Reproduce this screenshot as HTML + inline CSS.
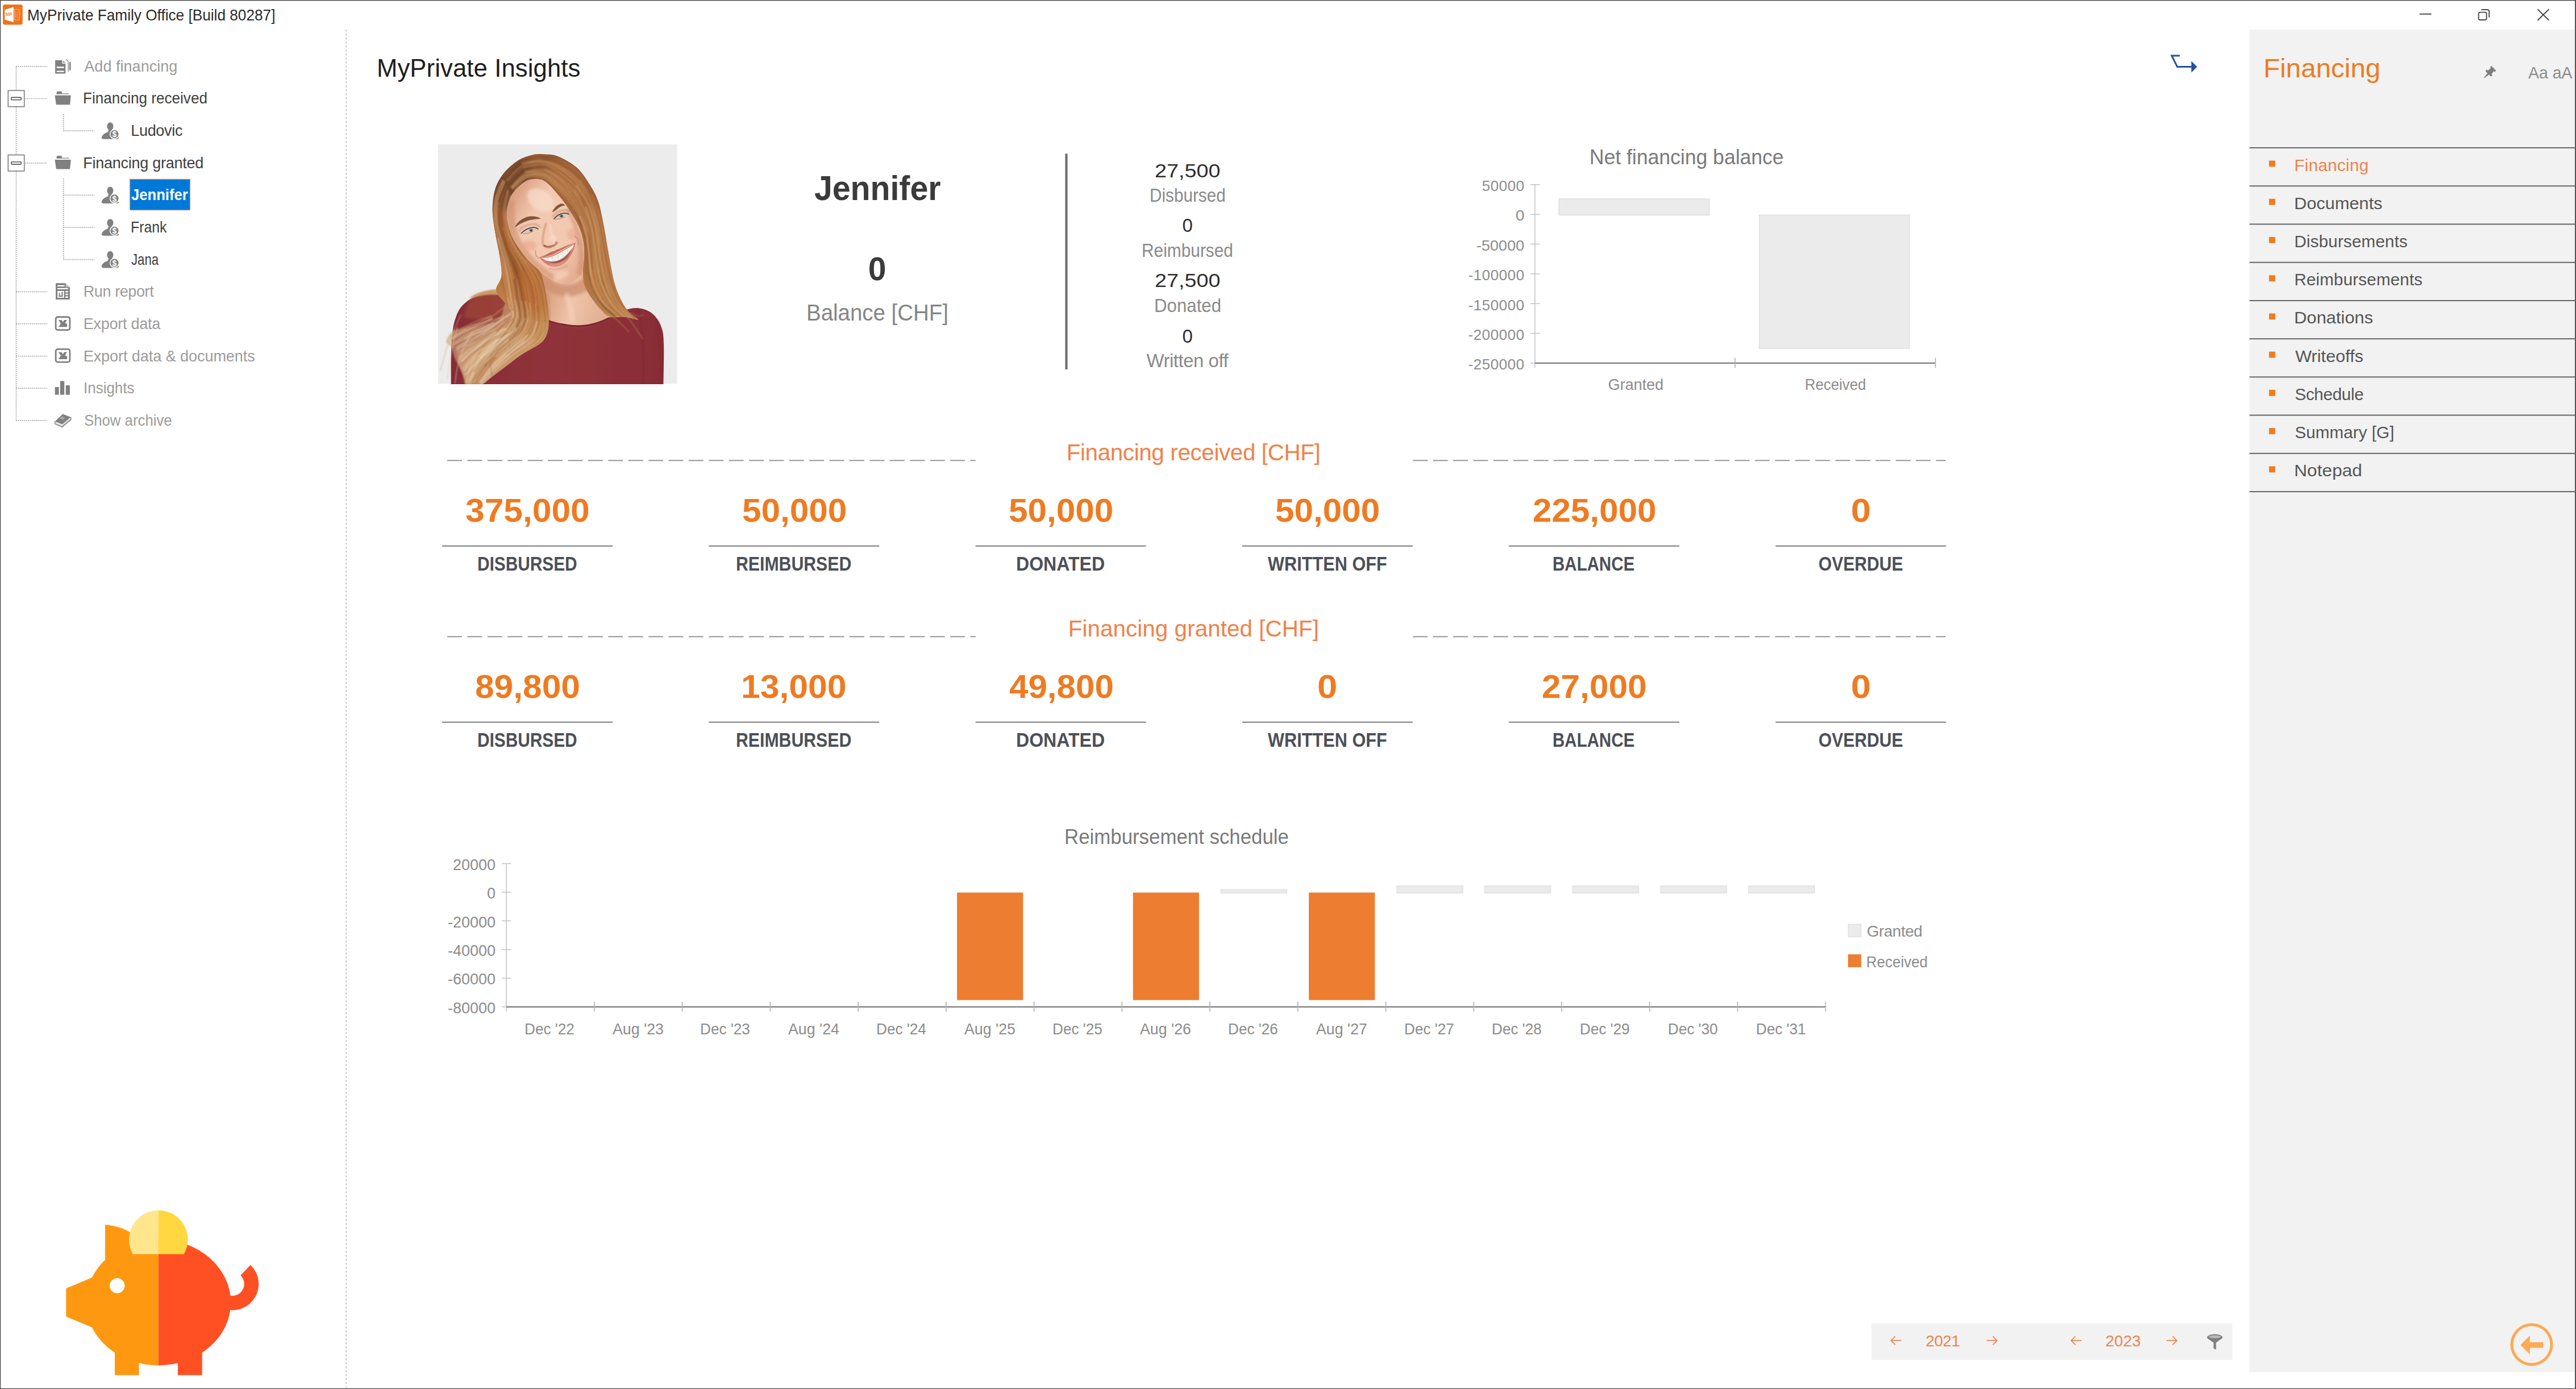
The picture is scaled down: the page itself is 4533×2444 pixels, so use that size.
<!DOCTYPE html>
<html lang="en"><head><meta charset="utf-8"><title>MyPrivate Family Office</title>
<style>
html,body{margin:0;padding:0;}
body{width:4533px;height:2444px;position:relative;overflow:hidden;background:#fff;font-family:"Liberation Sans", sans-serif;}
.t{position:absolute;white-space:nowrap;line-height:1em;}
.a{position:absolute;}
svg{position:absolute;left:0;top:0;overflow:visible;}
</style></head><body>
<svg width="4533" height="2444" viewBox="0 0 4533 2444">
<path d="M609.2 52 V2442" stroke="#bdbdbd" stroke-width="1.6" stroke-dasharray="3.4 3.6" fill="none"/>
<rect x="1874.4" y="270.4" width="4.2" height="379.6" fill="#6f6f6f"/>
<rect x="3958.5" y="52.2" width="572.5" height="2362.2" fill="#f2f2f2"/>
<rect x="3958.5" y="259.0" width="572.5" height="2.1" fill="#6b6b6b"/>
<rect x="3958.5" y="326.2" width="572.5" height="2.1" fill="#6b6b6b"/>
<rect x="3958.5" y="393.4" width="572.5" height="2.1" fill="#6b6b6b"/>
<rect x="3958.5" y="460.7" width="572.5" height="2.1" fill="#6b6b6b"/>
<rect x="3958.5" y="527.9" width="572.5" height="2.1" fill="#6b6b6b"/>
<rect x="3958.5" y="595.1" width="572.5" height="2.1" fill="#6b6b6b"/>
<rect x="3958.5" y="662.3" width="572.5" height="2.1" fill="#6b6b6b"/>
<rect x="3958.5" y="729.5" width="572.5" height="2.1" fill="#6b6b6b"/>
<rect x="3958.5" y="796.8" width="572.5" height="2.1" fill="#6b6b6b"/>
<rect x="3958.5" y="864.0" width="572.5" height="2.1" fill="#6b6b6b"/>
<rect x="3992.8" y="282.6" width="11" height="10.8" fill="#ef7c1f"/>
<rect x="3992.8" y="349.8" width="11" height="10.8" fill="#ef7c1f"/>
<rect x="3992.8" y="417.0" width="11" height="10.8" fill="#ef7c1f"/>
<rect x="3992.8" y="484.3" width="11" height="10.8" fill="#ef7c1f"/>
<rect x="3992.8" y="551.5" width="11" height="10.8" fill="#ef7c1f"/>
<rect x="3992.8" y="618.7" width="11" height="10.8" fill="#ef7c1f"/>
<rect x="3992.8" y="685.9" width="11" height="10.8" fill="#ef7c1f"/>
<rect x="3992.8" y="753.1" width="11" height="10.8" fill="#ef7c1f"/>
<rect x="3992.8" y="820.4" width="11" height="10.8" fill="#ef7c1f"/>
<circle cx="4455" cy="2365.7" r="35" fill="none" stroke="#ffa952" stroke-width="5"/>
<path d="M4435.4 2366.4 L4451.8 2350 V2361.8 H4475.2 V2371.4 H4451.8 V2383 Z" fill="#ffa952"/>
<rect x="3293.3" y="2328.2" width="634.9" height="64.6" fill="#f2f2f2"/>
<path d="M3345.9 2358.7 H3327.7000000000003 M3335.1 2351.2999999999997 L3327.7000000000003 2358.7 L3335.1 2366.1" fill="none" stroke="#f0824a" stroke-width="1.7"/>
<path d="M3496 2358.7 H3514.2 M3506.8 2351.2999999999997 L3514.2 2358.7 L3506.8 2366.1" fill="none" stroke="#f0824a" stroke-width="1.7"/>
<path d="M3662.8 2358.7 H3644.6000000000004 M3652.0 2351.2999999999997 L3644.6000000000004 2358.7 L3652.0 2366.1" fill="none" stroke="#f0824a" stroke-width="1.7"/>
<path d="M3812.4 2358.7 H3830.6 M3823.2000000000003 2351.2999999999997 L3830.6 2358.7 L3823.2000000000003 2366.1" fill="none" stroke="#f0824a" stroke-width="1.7"/>
<g fill="#7f7f7f"><ellipse cx="3897.4" cy="2353" rx="13.6" ry="5.4"/>
<path d="M3884.2 2354.4 L3895.2 2362.6 V2372.4 L3899.6 2374.8 V2362.6 L3910.6 2354.4 Z"/>
<ellipse cx="3897.4" cy="2352.2" rx="10.4" ry="2.6" fill="#b9b9b9"/></g>
<g stroke="#9b9b9b" stroke-width="1.7" stroke-dasharray="1.75 1.8" fill="none">
<line x1="28.5" y1="116.9" x2="28.5" y2="739.8"/>
<line x1="28.5" y1="116.9" x2="83" y2="116.9"/>
<line x1="28.5" y1="513.3" x2="83" y2="513.3"/>
<line x1="28.5" y1="569.9" x2="83" y2="569.9"/>
<line x1="28.5" y1="626.6" x2="83" y2="626.6"/>
<line x1="28.5" y1="683.2" x2="83" y2="683.2"/>
<line x1="28.5" y1="739.8" x2="83" y2="739.8"/>
<line x1="44.5" y1="173.5" x2="83" y2="173.5"/>
<line x1="44.5" y1="286.8" x2="83" y2="286.8"/>
<line x1="111.7" y1="201.0" x2="111.7" y2="230.2"/>
<line x1="111.7" y1="314.3" x2="111.7" y2="456.7"/>
<line x1="111.7" y1="230.2" x2="166" y2="230.2"/>
<line x1="111.7" y1="343.4" x2="166" y2="343.4"/>
<line x1="111.7" y1="400.1" x2="166" y2="400.1"/>
<line x1="111.7" y1="456.7" x2="166" y2="456.7"/>
</g>
<rect x="14.3" y="159.3" width="28.4" height="28.4" fill="#fff" stroke="#7a7a7a" stroke-width="1.6"/>
<rect x="19.8" y="171.4" width="17.4" height="4.4" rx="1" fill="#f4f4f4" stroke="#5a5a5a" stroke-width="1.6"/>
<rect x="14.3" y="272.6" width="28.4" height="28.4" fill="#fff" stroke="#7a7a7a" stroke-width="1.6"/>
<rect x="19.8" y="284.7" width="17.4" height="4.4" rx="1" fill="#f4f4f4" stroke="#5a5a5a" stroke-width="1.6"/>
<g transform="translate(96.5,103.60000000000001)" fill="#808080">
<path d="M0.6 2.3 H13 V8.5 H18.8 V26 H0.6 Z M3.2 13.6 V16.2 H16.2 V13.6 Z M3.2 20.8 V23.2 H16.2 V20.8 Z" fill-rule="evenodd"/>
<path d="M14.3 2.3 L18.8 7.2 H14.3 Z" opacity="0.75"/>
<path d="M19.5 1.2 C22.5 1.6 23.6 3.6 23.6 6.5 V22.5" fill="none" stroke="#808080" stroke-width="1.3"/>
<rect x="25.4" y="5.3" width="2.6" height="14.6"/>
</g>
<g transform="translate(96.5,160.33)" fill="#808080">
<path d="M2.9 4.6 C3.2 1.2 4 0.4 5.5 0.4 H10.5 C12 0.4 12.6 1.6 12.6 4.6 Z"/>
<rect x="2.9" y="4" width="22" height="1.3"/>
<path d="M0 7.3 H28.3 L26.6 24 H2.3 Z"/>
</g>
<g transform="translate(96.5,273.59000000000003)" fill="#808080">
<path d="M2.9 4.6 C3.2 1.2 4 0.4 5.5 0.4 H10.5 C12 0.4 12.6 1.6 12.6 4.6 Z"/>
<rect x="2.9" y="4" width="22" height="1.3"/>
<path d="M0 7.3 H28.3 L26.6 24 H2.3 Z"/>
</g>
<g transform="translate(178.2,215.26000000000002)" fill="#808080">
<ellipse cx="15.7" cy="7" rx="5.5" ry="7"/>
<path d="M0.3 28 C1.5 22 5 19.5 11.5 17 L13 13 H18.4 L19.6 17 C24.5 19 28.5 21.5 31.3 28 L28 29.6 H3.5 Z"/>
<circle cx="23.3" cy="20.8" r="8.6" fill="#fff"/>
<circle cx="23.3" cy="20.8" r="7.1"/>
<text x="23.3" y="26" font-size="14" font-weight="700" text-anchor="middle" fill="#fff" font-family="Liberation Sans, sans-serif">$</text>
</g>
<g transform="translate(178.2,328.52000000000004)" fill="#808080">
<ellipse cx="15.7" cy="7" rx="5.5" ry="7"/>
<path d="M0.3 28 C1.5 22 5 19.5 11.5 17 L13 13 H18.4 L19.6 17 C24.5 19 28.5 21.5 31.3 28 L28 29.6 H3.5 Z"/>
<circle cx="23.3" cy="20.8" r="8.6" fill="#fff"/>
<circle cx="23.3" cy="20.8" r="7.1"/>
<text x="23.3" y="26" font-size="14" font-weight="700" text-anchor="middle" fill="#fff" font-family="Liberation Sans, sans-serif">$</text>
</g>
<g transform="translate(178.2,385.1500000000001)" fill="#808080">
<ellipse cx="15.7" cy="7" rx="5.5" ry="7"/>
<path d="M0.3 28 C1.5 22 5 19.5 11.5 17 L13 13 H18.4 L19.6 17 C24.5 19 28.5 21.5 31.3 28 L28 29.6 H3.5 Z"/>
<circle cx="23.3" cy="20.8" r="8.6" fill="#fff"/>
<circle cx="23.3" cy="20.8" r="7.1"/>
<text x="23.3" y="26" font-size="14" font-weight="700" text-anchor="middle" fill="#fff" font-family="Liberation Sans, sans-serif">$</text>
</g>
<g transform="translate(178.2,441.7800000000001)" fill="#808080">
<ellipse cx="15.7" cy="7" rx="5.5" ry="7"/>
<path d="M0.3 28 C1.5 22 5 19.5 11.5 17 L13 13 H18.4 L19.6 17 C24.5 19 28.5 21.5 31.3 28 L28 29.6 H3.5 Z"/>
<circle cx="23.3" cy="20.8" r="8.6" fill="#fff"/>
<circle cx="23.3" cy="20.8" r="7.1"/>
<text x="23.3" y="26" font-size="14" font-weight="700" text-anchor="middle" fill="#fff" font-family="Liberation Sans, sans-serif">$</text>
</g>
<g transform="translate(98.1,498.31000000000006)" fill="#808080">
<path fill-rule="evenodd" d="M0 0 H17.5 L24.8 7 V28.7 H0 Z M3 3.4 V5.6 H15.5 V3.4 Z M3 8.4 V10.6 H21.8 V8.4 Z M3 13.6 V25.8 H14.6 V13.6 Z M17 13.6 V16.2 H21.8 V13.6 Z M17 18.4 V21 H21.8 V18.4 Z M17 23.2 V25.8 H21.8 V23.2 Z"/>
<path d="M5.3 17 H7.4 V21.8 H10.2 V15.2 H12.4 V24 H5.3 Z"/>
<path d="M17.5 0 V7 H24.8 Z" fill="#fff"/><path d="M17.5 0.8 L24 7 H17.5 Z" opacity="0.55"/>
</g>
<g transform="translate(96.7,556.34)">
<rect x="1.4" y="1.4" width="24.8" height="22.8" rx="3.6" fill="#fff" stroke="#808080" stroke-width="2.8"/>
<path d="M6.3 6.6 H11.3 L13.8 10.2 L16.3 6.6 H21.3 L17.4 12.2 C19.5 12.6 21 13.4 21.6 14.6 L21.3 19 H6.3 L10.2 12.8 Z" fill="#808080"/>
</g>
<g transform="translate(96.7,612.97)">
<rect x="1.4" y="1.4" width="24.8" height="22.8" rx="3.6" fill="#fff" stroke="#808080" stroke-width="2.8"/>
<path d="M6.3 6.6 H11.3 L13.8 10.2 L16.3 6.6 H21.3 L17.4 12.2 C19.5 12.6 21 13.4 21.6 14.6 L21.3 19 H6.3 L10.2 12.8 Z" fill="#808080"/>
</g>
<g transform="translate(96.7,670.4000000000001)" fill="#808080">
<rect x="0" y="10.6" width="6.9" height="13.6"/><rect x="9.1" y="0" width="7.4" height="24.2"/><rect x="19" y="7.6" width="7.3" height="16.6"/>
</g>
<g transform="translate(96,728.23)" fill="#808080">
<path d="M14.5 0.3 L28.6 5.8 L13.6 18.6 L0.6 13.2 Z"/>
<path d="M28.6 5.8 L29 9.6 L13.4 23 L0.8 17.6 L0.6 13.2" fill="none" stroke="#808080" stroke-width="1.6"/>
<path d="M1.2 15.5 L13.5 20.8 L28.6 8" fill="none" stroke="#c9c9c9" stroke-width="1.4"/>
<path d="M13.4 4.4 L19 6.6 L14.6 10.2 L9.2 8 Z" fill="#a9a9a9"/>
</g>
<rect x="228.6" y="315.4" width="105.8" height="54.2" fill="#0078d7"/>
<rect x="228.6" y="315.4" width="105.8" height="54.2" fill="none" stroke="#e8814a" stroke-width="1.6" stroke-dasharray="1.7 1.8"/>
<g transform="translate(5,8)">
<rect x="0" y="0" width="34.8" height="35.4" rx="3.4" fill="#f0741b"/>
<path d="M3.4 9 L18.8 4.6 V31 L3.4 26.6 Z" fill="#fff"/>
<text x="10.6" y="20.4" font-size="9.5" font-weight="700" text-anchor="middle" fill="#f28a3c" font-family="Liberation Sans, sans-serif" textLength="11" lengthAdjust="spacingAndGlyphs">MP</text>
<rect x="20.6" y="8.6" width="8.4" height="18.6" fill="none" stroke="#f9a772" stroke-width="1.5"/>
<path d="M22.8 12 V24 M25.6 12 V24" stroke="#f7995c" stroke-width="1.2" fill="none"/>
<path d="M29.4 14 L31.6 16.6 L29.4 19.2 Z" fill="#f9a772"/>
</g>
<g fill="none" stroke="#474747" stroke-width="1.9">
<line x1="4257.8" y1="24.7" x2="4278.6" y2="24.7"/>
<rect x="4361.6" y="21.6" width="14" height="13.4" rx="2.6"/>
<path d="M4366.4 17 H4376.6 Q4380.2 17 4380.2 20.6 V30.4"/>
<path d="M4465.4 16.2 L4485.4 35.8 M4485.4 16.2 L4465.4 35.8"/>
</g>
<path d="M3835.8 98 H3821.6 L3831.4 117.6 H3857" fill="none" stroke="#23509f" stroke-width="3"/>
<path d="M3856.2 107.4 L3866.2 117.6 L3856.2 127.8 Z" fill="#23509f"/>
<g transform="translate(4379.8,128.6) rotate(45)" fill="#7d7d7d">
<rect x="-5.8" y="-12" width="11.6" height="3.4" rx="0.8"/>
<path d="M-3.7 -9 H3.7 L4.5 -1.2 H-4.5 Z"/>
<path d="M-7.6 -1.6 H7.6 L6.4 2 H-6.4 Z"/>
<path d="M-1.8 1.8 H1.8 L0.5 12 H-0.5 Z"/>
</g>
<path d="M2701 324.8 V647.2" stroke="#c6c6c6" stroke-width="1.6" fill="none"/>
<path d="M2693 324.8 H2709.6" stroke="#c6c6c6" stroke-width="1.6" fill="none"/>
<path d="M2693 377.2 H2709.6" stroke="#c6c6c6" stroke-width="1.6" fill="none"/>
<path d="M2693 429.5 H2709.6" stroke="#c6c6c6" stroke-width="1.6" fill="none"/>
<path d="M2693 481.9 H2709.6" stroke="#c6c6c6" stroke-width="1.6" fill="none"/>
<path d="M2693 534.2 H2709.6" stroke="#c6c6c6" stroke-width="1.6" fill="none"/>
<path d="M2693 586.5 H2709.6" stroke="#c6c6c6" stroke-width="1.6" fill="none"/>
<path d="M2693 638.9 H2709.6" stroke="#c6c6c6" stroke-width="1.6" fill="none"/>
<rect x="2743.4" y="350" width="264.4" height="28.4" fill="#ebebeb" stroke="#dcdcdc" stroke-width="1.4"/>
<rect x="3095.9" y="378.4" width="264" height="234.5" fill="#ebebeb" stroke="#dcdcdc" stroke-width="1.4"/>
<path d="M2701 638.9 H3405.7" stroke="#7b7b7b" stroke-width="2.2" fill="none"/>
<path d="M3053.2 629.5 V647.2" stroke="#b0b0b0" stroke-width="1.6" fill="none"/>
<path d="M3405.7 629.5 V647.2" stroke="#b0b0b0" stroke-width="1.6" fill="none"/>
<path d="M891 1519.5 V1780" stroke="#c6c6c6" stroke-width="1.6" fill="none"/>
<path d="M883 1519.5 H899.4" stroke="#c6c6c6" stroke-width="1.6" fill="none"/>
<path d="M883 1569.9 H899.4" stroke="#c6c6c6" stroke-width="1.6" fill="none"/>
<path d="M883 1620.3 H899.4" stroke="#c6c6c6" stroke-width="1.6" fill="none"/>
<path d="M883 1670.8 H899.4" stroke="#c6c6c6" stroke-width="1.6" fill="none"/>
<path d="M883 1721.2 H899.4" stroke="#c6c6c6" stroke-width="1.6" fill="none"/>
<path d="M883 1771.6 H899.4" stroke="#c6c6c6" stroke-width="1.6" fill="none"/>
<rect x="1684.1" y="1570.5" width="116.2" height="189.2" fill="#ed7d31"/>
<rect x="1993.7" y="1570.5" width="116.2" height="189.2" fill="#ed7d31"/>
<rect x="2303.2" y="1570.5" width="116.2" height="189.2" fill="#ed7d31"/>
<rect x="2148.4" y="1565.2" width="116.2" height="6.2" fill="#ebebeb" stroke="#dcdcdc" stroke-width="1.2"/>
<rect x="2458.0" y="1558.8" width="116.2" height="12.6" fill="#ebebeb" stroke="#dcdcdc" stroke-width="1.2"/>
<rect x="2612.7" y="1558.8" width="116.2" height="12.6" fill="#ebebeb" stroke="#dcdcdc" stroke-width="1.2"/>
<rect x="2767.5" y="1558.8" width="116.2" height="12.6" fill="#ebebeb" stroke="#dcdcdc" stroke-width="1.2"/>
<rect x="2922.3" y="1558.8" width="116.2" height="12.6" fill="#ebebeb" stroke="#dcdcdc" stroke-width="1.2"/>
<rect x="3077.0" y="1558.8" width="116.2" height="12.6" fill="#ebebeb" stroke="#dcdcdc" stroke-width="1.2"/>
<path d="M891 1771.6 H3212.5" stroke="#7b7b7b" stroke-width="2.2" fill="none"/>
<path d="M1045.8 1762.5 V1780" stroke="#b0b0b0" stroke-width="1.6" fill="none"/>
<path d="M1200.5 1762.5 V1780" stroke="#b0b0b0" stroke-width="1.6" fill="none"/>
<path d="M1355.3 1762.5 V1780" stroke="#b0b0b0" stroke-width="1.6" fill="none"/>
<path d="M1510.1 1762.5 V1780" stroke="#b0b0b0" stroke-width="1.6" fill="none"/>
<path d="M1664.8 1762.5 V1780" stroke="#b0b0b0" stroke-width="1.6" fill="none"/>
<path d="M1819.6 1762.5 V1780" stroke="#b0b0b0" stroke-width="1.6" fill="none"/>
<path d="M1974.4 1762.5 V1780" stroke="#b0b0b0" stroke-width="1.6" fill="none"/>
<path d="M2129.1 1762.5 V1780" stroke="#b0b0b0" stroke-width="1.6" fill="none"/>
<path d="M2283.9 1762.5 V1780" stroke="#b0b0b0" stroke-width="1.6" fill="none"/>
<path d="M2438.7 1762.5 V1780" stroke="#b0b0b0" stroke-width="1.6" fill="none"/>
<path d="M2593.4 1762.5 V1780" stroke="#b0b0b0" stroke-width="1.6" fill="none"/>
<path d="M2748.2 1762.5 V1780" stroke="#b0b0b0" stroke-width="1.6" fill="none"/>
<path d="M2903.0 1762.5 V1780" stroke="#b0b0b0" stroke-width="1.6" fill="none"/>
<path d="M3057.7 1762.5 V1780" stroke="#b0b0b0" stroke-width="1.6" fill="none"/>
<path d="M3212.5 1762.5 V1780" stroke="#b0b0b0" stroke-width="1.6" fill="none"/>
<rect x="3252.4" y="1626.2" width="22.4" height="22" fill="#ebebeb" stroke="#dcdcdc" stroke-width="1.2"/>
<rect x="3252" y="1679.2" width="23.2" height="22.6" fill="#ed7d31"/>
<path d="M787 810.3 H1716.6 M2486.3 810.3 H3423.6" stroke="#979797" stroke-width="1.9" stroke-dasharray="26 9.4" fill="none"/>
<rect x="778.0" y="959.7" width="300" height="2" fill="#7a7a7a"/>
<rect x="1247.3" y="959.7" width="300" height="2" fill="#7a7a7a"/>
<rect x="1716.6" y="959.7" width="300" height="2" fill="#7a7a7a"/>
<rect x="2185.9" y="959.7" width="300" height="2" fill="#7a7a7a"/>
<rect x="2655.2" y="959.7" width="300" height="2" fill="#7a7a7a"/>
<rect x="3124.5" y="959.7" width="300" height="2" fill="#7a7a7a"/>
<path d="M787 1120.3 H1716.6 M2486.3 1120.3 H3423.6" stroke="#979797" stroke-width="1.9" stroke-dasharray="26 9.4" fill="none"/>
<rect x="778.0" y="1269.7" width="300" height="2" fill="#7a7a7a"/>
<rect x="1247.3" y="1269.7" width="300" height="2" fill="#7a7a7a"/>
<rect x="1716.6" y="1269.7" width="300" height="2" fill="#7a7a7a"/>
<rect x="2185.9" y="1269.7" width="300" height="2" fill="#7a7a7a"/>
<rect x="2655.2" y="1269.7" width="300" height="2" fill="#7a7a7a"/>
<rect x="3124.5" y="1269.7" width="300" height="2" fill="#7a7a7a"/>
<path d="M432.0 2234.9 A33.4 33.4 0 0 1 390.0 2286.6" fill="none" stroke="#ff5023" stroke-width="25.4"/>
<rect x="202" y="2360" width="42.5" height="59.6" fill="#ff9811"/>
<rect x="313" y="2360" width="42.7" height="59.6" fill="#ff5023"/>
<path d="M278.8 2180.8999999999996 A127.4 110.8 0 0 0 278.8 2402.5 Z" fill="#ff9811"/>
<path d="M278.8 2180.8999999999996 A127.4 110.8 0 0 1 278.8 2402.5 Z" fill="#ff5023"/>
<path d="M185 2155 C203 2156.5 218 2161.5 229.5 2168.6 L245 2215 L185 2240 Z" fill="#ff9811"/>
<path d="M176 2242 L116.3 2267 V2316.6 L176 2341.6 Z" fill="#ff9811"/>
<circle cx="206.2" cy="2262.2" r="13.2" fill="#fff"/>
<path d="M278.8 2129.3999999999996 A51.8 51.8 0 0 0 233.8 2206.8 H278.8 Z" fill="#ffe68c"/>
<path d="M278.8 2129.3999999999996 A51.8 51.8 0 0 1 323.8 2206.8 H278.8 Z" fill="#ffd740"/>
<rect x="0" y="0" width="4533" height="1.3" fill="#454545"/><rect x="0" y="0" width="1.2" height="2444" fill="#454545"/>
<rect x="4531.2" y="0" width="1.8" height="2444" fill="#454545"/><rect x="0" y="2442.8" width="4533" height="1.2" fill="#454545"/>
</svg>
<svg class="a" style="left:771px;top:254.4px" width="420.8" height="421.6" viewBox="0 0 420.8 421.6">
<defs>
<clipPath id="pc"><rect x="0" y="0" width="420.8" height="421.6"/></clipPath>
<clipPath id="hc"><path d="M167.2 18.2 C175.2 16.5 182.6 17.0 190.0 17.5 C197.4 18.0 202.8 17.6 211.7 21.4 C220.6 25.2 234.6 32.5 243.6 40.5 C252.6 48.5 259.4 59.1 265.8 69.2 C272.2 79.3 277.6 88.8 281.8 101.0 C286.1 113.2 288.1 126.4 291.3 142.3 C294.5 158.2 297.6 179.4 300.8 196.4 C304.0 213.4 306.7 230.9 310.4 244.2 C314.1 257.5 318.9 267.5 323.1 276.0 C327.4 284.5 331.1 289.7 335.9 295.1 C340.7 300.5 352.8 307.0 351.8 308.5 C350.8 310.0 338.2 304.8 330.0 304.0 C321.8 303.2 309.6 305.8 302.3 303.6 C295.0 301.4 291.7 296.6 286.0 290.6 C280.3 284.6 272.8 275.1 268.0 267.7 C263.2 260.3 259.2 254.2 257.0 246.5 C254.8 238.8 254.9 230.1 255.0 221.6 C255.1 213.1 257.4 204.3 257.5 195.7 C257.6 187.0 257.2 178.3 255.5 169.7 C253.8 161.0 251.5 152.7 247.5 143.8 C243.5 134.9 237.1 124.8 231.5 116.2 C225.9 107.6 220.6 100.0 214.0 92.0 C207.4 84.0 198.3 73.2 192.0 68.0 C185.7 62.8 182.2 61.6 176.0 61.0 C169.8 60.4 162.0 60.4 154.7 64.3 C147.4 68.2 137.6 76.9 132.2 84.4 C126.7 91.9 123.8 100.8 122.0 109.3 C120.2 117.8 120.2 126.6 121.4 135.2 C122.6 143.8 126.1 153.3 129.4 161.1 C132.7 168.9 136.5 174.6 141.4 181.8 C146.3 189.0 152.4 197.4 158.6 204.3 C164.8 211.2 174.5 217.6 178.8 223.3 C183.2 229.0 182.8 230.9 184.7 238.3 C186.6 245.8 188.8 257.3 190.5 268.0 C192.2 278.7 194.2 292.4 194.6 302.6 C195.0 312.8 195.2 321.6 192.9 329.4 C190.6 337.2 188.4 342.8 180.8 349.5 C173.2 356.2 157.4 362.8 147.3 369.5 C137.2 376.2 129.4 382.9 120.5 389.6 C111.6 396.3 101.4 404.1 93.8 409.7 C86.2 415.3 82.3 420.8 75.0 423.0 C67.7 425.2 53.8 426.8 50.0 423.0 C46.2 419.2 50.0 408.5 52.0 400.0 C54.0 391.5 56.5 381.2 62.0 372.0 C67.5 362.8 76.7 353.3 85.0 345.0 C93.3 336.7 104.5 329.5 112.0 322.0 C119.5 314.5 129.0 307.0 130.0 300.0 C131.0 293.0 122.7 287.2 118.0 280.0 C113.3 272.8 102.9 265.1 101.8 257.0 C100.7 248.9 110.4 241.5 111.5 231.4 C112.6 221.3 110.1 209.1 108.3 196.4 C106.5 183.7 102.5 168.3 100.4 155.1 C98.3 141.8 95.6 129.6 95.6 116.9 C95.6 104.2 97.0 89.8 100.4 78.7 C103.9 67.6 109.4 58.6 116.3 50.1 C123.2 41.6 133.2 33.1 141.7 27.8 C150.2 22.5 159.1 19.9 167.2 18.2 Z"/></clipPath>
<linearGradient id="hairL" gradientUnits="userSpaceOnUse" x1="0" y1="18" x2="0" y2="421"><stop offset="0" stop-color="#8b5532"/><stop offset="0.3" stop-color="#a9643a"/><stop offset="0.58" stop-color="#b97a44"/><stop offset="0.78" stop-color="#c99662"/><stop offset="1" stop-color="#d8b48e"/></linearGradient>
<linearGradient id="skin" gradientUnits="userSpaceOnUse" x1="120" y1="110" x2="260" y2="200"><stop offset="0" stop-color="#dca284"/><stop offset="0.28" stop-color="#f2c9b1"/><stop offset="0.75" stop-color="#f3c9b0"/><stop offset="1" stop-color="#e4ad91"/></linearGradient>
<linearGradient id="neck" gradientUnits="userSpaceOnUse" x1="185" y1="260" x2="305" y2="300"><stop offset="0" stop-color="#d59c7c"/><stop offset="0.45" stop-color="#efc3a9"/><stop offset="1" stop-color="#e0aa8d"/></linearGradient>
<linearGradient id="shirt" gradientUnits="userSpaceOnUse" x1="20" y1="0" x2="400" y2="0"><stop offset="0" stop-color="#872c35"/><stop offset="0.45" stop-color="#90323a"/><stop offset="1" stop-color="#892d36"/></linearGradient>
<filter id="b1" x="-20%" y="-20%" width="140%" height="140%"><feGaussianBlur stdDeviation="1.1"/></filter>
<filter id="b2" x="-30%" y="-30%" width="160%" height="160%"><feGaussianBlur stdDeviation="2.6"/></filter>
<filter id="b5" x="-40%" y="-40%" width="180%" height="180%"><feGaussianBlur stdDeviation="7"/></filter>
<filter id="b05" x="-20%" y="-20%" width="140%" height="140%"><feGaussianBlur stdDeviation="0.55"/></filter>
<filter id="b09" x="-20%" y="-20%" width="140%" height="140%"><feGaussianBlur stdDeviation="0.9"/></filter>
<filter id="b07" x="-5%" y="-5%" width="110%" height="110%"><feGaussianBlur stdDeviation="0.7"/></filter>
</defs>
<g clip-path="url(#pc)">
<rect width="420.8" height="421.6" fill="#ececec"/>
<g filter="url(#b07)">
<path d="M180.0 215.0 C192.0 205.8 244.3 209.2 258.0 215.0 C271.7 220.8 259.2 239.5 262.0 250.0 C264.8 260.5 268.7 269.2 275.0 278.0 C281.3 286.8 294.2 296.8 300.0 303.0 C305.8 309.2 319.2 310.5 310.0 315.0 C300.8 319.5 265.0 329.5 245.0 330.0 C225.0 330.5 199.8 328.0 190.0 318.0 C180.2 308.0 187.7 287.2 186.0 270.0 C184.3 252.8 168.0 224.2 180.0 215.0 Z" fill="url(#neck)"/>
<path d="M182 232 C200 246 222 254 246 242 C252 238 256 232 258 224 L264 256 C240 274 205 268 186 254 Z" fill="#cf9272" opacity="0.8" filter="url(#b2)"/>
<path d="M225 262 C232 282 236 296 238 314" fill="none" stroke="#f6d4c0" stroke-width="9" opacity="0.55" filter="url(#b2)"/>
<path d="M190 262 C192 282 194 296 196 312" fill="none" stroke="#bf8464" stroke-width="7" opacity="0.55" filter="url(#b2)"/>
<path d="M22.8 440.0 C22.8 428.2 22.4 387.4 22.8 369.0 C23.2 350.6 24.1 340.0 25.4 329.4 C26.7 318.8 28.3 312.3 30.8 305.2 C33.3 298.1 35.7 292.1 40.2 286.5 C44.7 280.9 51.3 275.6 57.6 271.8 C63.9 268.1 69.3 265.6 78.0 264.0 C86.7 262.4 98.0 261.0 110.0 262.0 C122.0 263.0 135.7 262.1 150.0 270.0 C164.3 277.9 184.4 302.0 196.1 309.6 C207.8 317.2 211.8 314.1 220.0 315.6 C228.2 317.1 235.5 318.5 245.1 318.4 C254.7 318.3 268.8 317.3 277.8 315.1 C286.8 312.9 290.9 309.1 299.1 305.3 C307.3 301.5 318.2 295.1 326.9 292.2 C335.6 289.3 343.2 287.3 351.4 288.1 C359.6 288.9 369.1 291.8 375.9 297.1 C382.7 302.4 388.7 310.7 392.2 320.0 C395.7 329.3 396.5 332.7 397.1 352.7 C397.7 372.7 396.2 425.4 396.0 440.0 Z" fill="url(#shirt)"/>
<path d="M196.1 311.2 C215 317 232 320.2 250 319.6 C272 318.6 288 312 300.5 305.6" fill="none" stroke="#772530" stroke-width="2.4" filter="url(#b05)"/>
<path d="M200 314.8 C218 320.6 234 323.6 251 323 C272 322 288 316 301 309.4" fill="none" stroke="#9a3a43" stroke-width="1.4" opacity="0.8" filter="url(#b05)"/>
<path d="M352 289 C361 330 363 380 361 425" fill="none" stroke="#7a2630" stroke-width="1.8" opacity="0.6" filter="url(#b1)"/>
<path d="M384 310 C392 340 394 380 393 425" fill="none" stroke="#7a2630" stroke-width="5" opacity="0.35" filter="url(#b2)"/>
<path d="M154.7 60.0 C164.7 56.4 179.9 56.7 190.0 62.0 C200.1 67.3 208.0 83.0 215.0 92.0 C222.0 101.0 226.5 107.4 232.0 116.0 C237.5 124.6 244.0 134.9 248.0 143.8 C252.0 152.8 254.3 161.0 256.0 169.7 C257.7 178.3 258.0 187.0 258.0 195.7 C258.0 204.3 258.2 214.9 256.0 221.6 C253.8 228.3 250.7 232.1 245.0 236.0 C239.3 239.9 229.3 244.4 222.0 245.0 C214.7 245.6 208.5 243.0 201.3 239.5 C194.1 236.0 186.0 229.8 178.8 224.0 C171.6 218.2 164.4 211.9 158.1 205.0 C151.8 198.1 145.8 189.8 140.8 182.5 C135.8 175.2 131.6 169.0 128.0 161.1 C124.4 153.2 120.4 143.8 119.0 135.2 C117.6 126.6 117.7 117.9 119.5 109.3 C121.3 100.7 124.1 91.6 130.0 83.4 C135.9 75.2 144.7 63.6 154.7 60.0 Z" fill="url(#skin)"/>
<path d="M119 100 C116 140 124 165 140 188 C154 207 176 226 200 240 L208 232 C182 214 162 196 150 176 C136 154 132 130 136 98 Z" fill="#cf9170" opacity="0.6" filter="url(#b2)"/>
<path d="M232 112 C246 136 254 160 256 190 C257 208 256 222 252 232 L244 228 C248 210 248 190 244 168 C240 146 232 128 224 114 Z" fill="#c98866" opacity="0.5" filter="url(#b2)"/>
<ellipse cx="160" cy="178" rx="13" ry="9" fill="#e79f88" opacity="0.5" filter="url(#b2)"/>
<ellipse cx="236" cy="158" rx="9" ry="11" fill="#e79f88" opacity="0.45" filter="url(#b2)"/>
<ellipse cx="180" cy="98" rx="26" ry="17" fill="#f9dccb" opacity="0.75" filter="url(#b2)" transform="rotate(35 180 98)"/>
<path d="M134.6 146.4 C139 137 146 131.2 156 127.8 C165 125.2 174 126.6 181 130.6 C174 131.6 165 132 157 134.6 C148 137.6 141 142 134.6 146.4 Z" fill="#80573c" filter="url(#b05)"/>
<path d="M200.6 119.4 C204 112 209.6 106.6 215.6 104.6 C219 103.8 221.6 105 223 107.4 C218 107.8 213.4 110.4 209.4 114 C206 116.8 203.4 118.6 200.6 119.4 Z" fill="#80573c" filter="url(#b05)"/>
<g filter="url(#b05)">
<path d="M148 156 C152 151.4 159 148 166 147.4 C170 147.2 173 148 175 149.4 C171 151.6 166 153.8 160 155 C155 156 151 156.4 148 156 Z" fill="#dccbc3"/>
<ellipse cx="163.6" cy="151.2" rx="3.6" ry="2.8" fill="#7d8a92"/><circle cx="163.6" cy="151.2" r="1.5" fill="#2e2a2a"/>
<path d="M146 157 C151 150.6 160 146.6 167 146.2 C171 146.2 174 147.2 176.4 149.4" fill="none" stroke="#5d4234" stroke-width="1.8" filter="url(#b05)"/>
<path d="M149 157.2 C154 157.6 160 156.4 166 153.8" fill="none" stroke="#a87c68" stroke-width="1.1" opacity="0.8" filter="url(#b05)"/>
<path d="M205 131 C209 126.6 214 123.6 220 122.4 C223.6 121.8 226.6 122.2 228.6 123.2 C225 126 220 128.4 214.6 129.8 C210.6 130.8 207 131.2 205 131 Z" fill="#dccbc3"/>
<ellipse cx="217" cy="126.2" rx="3.4" ry="2.7" fill="#7d8a92"/><circle cx="217" cy="126.2" r="1.4" fill="#2e2a2a"/>
<path d="M203.4 131.8 C208 125.8 214 122.2 220.6 121.2 C224.6 120.8 227.6 121.4 230.6 123" fill="none" stroke="#5d4234" stroke-width="1.8" filter="url(#b05)"/>
<path d="M206 132 C211 132 217 130.4 223 127.6" fill="none" stroke="#a87c68" stroke-width="1.1" opacity="0.8" filter="url(#b05)"/>
<path d="M142 153 C148 144 159 139.6 169 140.6 C174 141.2 177 143 179.6 146" fill="none" stroke="#c48f78" stroke-width="3" opacity="0.6" filter="url(#b1)"/>
<path d="M201 128 C206 120.6 214 116.6 222 115.8 C226.6 115.6 230 116.8 232.6 119.4" fill="none" stroke="#c48f78" stroke-width="3" opacity="0.6" filter="url(#b1)"/>
</g>
<path d="M190 138 C186 152 183.4 164 184 173 C184.6 180 191 183 198 181" fill="none" stroke="#cf967a" stroke-width="3.4" opacity="0.75" filter="url(#b1)"/>
<path d="M184 176 C186.6 181.6 193 183.4 199.4 181.6 C204.6 180 209.6 176.4 212.6 171.6 C206 176.4 198 178.6 192 178.6 C189 178.6 186.4 177.8 184 176 Z" fill="#b0705a" opacity="0.9" filter="url(#b05)"/>
<ellipse cx="188" cy="178.6" rx="2.4" ry="1.4" fill="#7e4436" opacity="0.8" filter="url(#b05)"/>
<ellipse cx="202" cy="166" rx="7" ry="6" fill="#f8d8c6" opacity="0.75" filter="url(#b1)"/>
<path d="M196 140 C198 150 200 158 202 164" fill="none" stroke="#f8dac8" stroke-width="4" opacity="0.7" filter="url(#b1)"/>
<ellipse cx="207.6" cy="172.6" rx="2.2" ry="1.3" fill="#8a4e3e" opacity="0.6" filter="url(#b05)" transform="rotate(-30 207.6 172.6)"/>
<path d="M177.6 198.4 C186 200.6 196 198 207 192.6 C218 187 231 180 242 172.6 C240 186 232 202 220 210.6 C210 217.6 198 216.6 190 210.6 C184 206 180 202 177.6 198.4 Z" fill="#d67f6c"/>
<path d="M181.6 199.6 C190 201.2 199 198.6 209 193.6 C219 188.4 230 182 239 176 C236 186.6 229 196.6 219 202.6 C209 208.4 197 208 190 204.6 C186 202.6 183.4 201 181.6 199.6 Z" fill="#f6f0ec"/>
<path d="M186 203 C193 207 203 207.6 213 203.6 C223 199 231 190 236 181.4 C233 192 226 201.6 217 206 C207 210.6 195 209 186 203 Z" fill="#7f4038" opacity="0.75"/>
<path d="M177.6 198.4 C186 199.6 196 196.6 207 191 C218 185.4 231 178.4 242 172.6 C232 176 222 180.4 213 184 C209 185.4 206.6 186 204 188 C200 188.4 197 190 193 192.4 C188 195.4 182 197.6 177.6 198.4 Z" fill="#c46c5c"/>
<path d="M196 211.6 C204 214.6 214 212.6 222 205.6" fill="none" stroke="#eaa596" stroke-width="2.2" opacity="0.8" filter="url(#b1)"/>
<path d="M193 199.6 L194.4 206.4" stroke="#d6cbc3" stroke-width="0.9" fill="none"/>
<path d="M201 197.4 L202.6 206.8" stroke="#d6cbc3" stroke-width="0.9" fill="none"/>
<path d="M210 193.4 L212 204.6" stroke="#d6cbc3" stroke-width="0.9" fill="none"/>
<path d="M219 188.6 L221 199.6" stroke="#d6cbc3" stroke-width="0.9" fill="none"/>
<path d="M227 183.6 L228.6 192.6" stroke="#d6cbc3" stroke-width="0.9" fill="none"/>
<path d="M171.6 186 C170.6 192 172.6 198 177.6 201.4" fill="none" stroke="#c98a70" stroke-width="1.8" opacity="0.75" filter="url(#b05)"/>
<path d="M240 161 C245.6 165 247.6 171 246 177.6" fill="none" stroke="#c98a70" stroke-width="1.8" opacity="0.75" filter="url(#b05)"/>
<path d="M194 218 C204 222 218 220 228 212" fill="none" stroke="#d39a80" stroke-width="3" opacity="0.6" filter="url(#b1)"/>
<ellipse cx="216" cy="230" rx="14" ry="7" fill="#f7d3bf" opacity="0.6" filter="url(#b2)" transform="rotate(-18 216 230)"/>
<path d="M57 271 C80 262 110 258 142 264 L150 300 C120 312 80 312 44 304 Z" fill="#b5683f" opacity="0.33" filter="url(#b2)"/>
<path d="M118.0 280.0 C114.2 281.5 115.5 302.3 107.0 309.0 C98.5 315.7 79.9 317.0 67.0 320.0 C54.1 323.0 38.3 322.7 29.5 327.0 C20.7 331.3 14.9 340.8 14.0 346.0 C13.1 351.2 21.3 352.7 24.0 358.0 C26.7 363.3 27.0 371.0 30.0 378.0 C33.0 385.0 39.0 392.5 42.0 400.0 C45.0 407.5 46.0 423.0 48.0 423.0 C50.0 423.0 51.3 408.5 54.0 400.0 C56.7 391.5 58.7 381.0 64.0 372.0 C69.3 363.0 78.0 354.3 86.0 346.0 C94.0 337.7 104.7 329.7 112.0 322.0 C119.3 314.3 129.0 307.0 130.0 300.0 C131.0 293.0 121.8 278.5 118.0 280.0 Z" fill="#d0a67c" opacity="0.62" filter="url(#b1)"/>
<path d="M112.0 322.0 C111.7 320.7 95.0 335.0 86.0 340.0 C77.0 345.0 66.3 347.3 58.0 352.0 C49.7 356.7 39.3 361.3 36.0 368.0 C32.7 374.7 36.3 384.7 38.0 392.0 C39.7 399.3 44.0 406.8 46.0 412.0 C48.0 417.2 48.3 425.0 50.0 423.0 C51.7 421.0 53.3 408.2 56.0 400.0 C58.7 391.8 60.7 382.7 66.0 374.0 C71.3 365.3 80.3 356.7 88.0 348.0 C95.7 339.3 112.3 323.3 112.0 322.0 Z" fill="#d6b088" opacity="0.6" filter="url(#b1)"/>
<path d="M142.0 260.0 C135.3 257.6 112.1 255.7 101.8 255.5 C91.5 255.3 86.4 257.2 80.4 258.6 C74.4 260.0 69.9 261.6 66.0 263.6 C62.1 265.6 54.6 270.2 57.0 270.5 C59.4 270.8 72.0 266.3 80.4 265.4 C88.8 264.5 96.9 264.2 107.2 265.0 C117.5 265.8 136.2 270.8 142.0 270.0 C147.8 269.2 148.7 262.4 142.0 260.0 Z" fill="#cb9a66" filter="url(#b1)"/>
<g clip-path="url(#hc)"><rect x="0" y="0" width="420.8" height="421.6" fill="url(#hairL)"/>
<ellipse cx="128" cy="70" rx="34" ry="52" fill="#6b4029" opacity="0.75" filter="url(#b5)" transform="rotate(25 128 70)"/>
<ellipse cx="108" cy="150" rx="12" ry="60" fill="#8a5230" opacity="0.6" filter="url(#b5)"/>
<ellipse cx="225" cy="60" rx="40" ry="24" fill="#b97a48" opacity="0.6" filter="url(#b5)" transform="rotate(40 225 60)"/>
<ellipse cx="285" cy="200" rx="16" ry="90" fill="#c18e5c" opacity="0.65" filter="url(#b5)" transform="rotate(-8 285 200)"/>
<ellipse cx="262" cy="150" rx="9" ry="60" fill="#9a5e36" opacity="0.55" filter="url(#b5)" transform="rotate(-14 262 150)"/>
<ellipse cx="160" cy="255" rx="30" ry="50" fill="#b3602c" opacity="0.6" filter="url(#b5)" transform="rotate(-25 160 255)"/>
<ellipse cx="132" cy="200" rx="9" ry="40" fill="#6e3d25" opacity="0.5" filter="url(#b5)" transform="rotate(-22 132 200)"/>
<ellipse cx="110" cy="380" rx="60" ry="30" fill="#dcb890" opacity="0.7" filter="url(#b5)" transform="rotate(-40 110 380)"/>
<path d="M117.3 55.5 C121.8 50.8 133.5 33.4 144.7 27.2 C155.8 21.0 171.4 17.7 184.1 18.3 C196.8 18.9 209.7 24.9 220.9 30.8 C232.1 36.8 243.0 44.4 251.4 53.9 C259.8 63.4 265.7 76.0 271.4 87.8 C277.1 99.6 282.2 111.7 285.6 124.5 C289.1 137.2 289.4 151.3 291.9 164.4 C294.4 177.5 299.3 196.7 300.7 203.1" fill="none" stroke="#b06c3c" stroke-width="3.0" stroke-linecap="round" opacity="0.33" filter="url(#b09)"/>
<path d="M271.2 88.7 C273.2 95.1 280.0 114.5 283.2 127.2 C286.4 139.8 288.0 151.8 290.6 164.5 C293.2 177.2 295.7 190.3 298.5 203.3 C301.4 216.2 303.7 229.6 307.6 242.0 C311.5 254.4 315.3 266.9 322.0 277.6 C328.7 288.4 343.5 301.7 347.8 306.5" fill="none" stroke="#dcae78" stroke-width="1.8" stroke-linecap="round" opacity="0.44" filter="url(#b09)"/>
<path d="M250.8 56.9 C254.3 62.4 265.9 78.3 271.4 90.2 C276.8 102.0 280.1 115.3 283.3 128.0 C286.5 140.7 288.0 153.8 290.5 166.4 C293.0 179.1 295.5 191.4 298.4 203.9 C301.2 216.5 303.7 229.5 307.7 241.8 C311.6 254.1 315.7 267.0 322.2 277.7 C328.8 288.5 342.7 301.5 346.7 306.3" fill="none" stroke="#b06c3c" stroke-width="2.6" stroke-linecap="round" opacity="0.34" filter="url(#b09)"/>
<path d="M249.4 57.8 C252.7 63.5 264.2 79.9 269.5 91.8 C274.9 103.6 278.2 116.7 281.5 129.0 C284.8 141.4 286.9 153.3 289.3 165.9 C291.7 178.5 293.1 192.1 296.0 204.8 C298.8 217.5 302.1 229.6 306.2 242.0 C310.3 254.3 313.5 267.8 320.4 278.7 C327.4 289.6 343.3 302.4 347.8 307.1" fill="none" stroke="#b06c3c" stroke-width="3.2" stroke-linecap="round" opacity="0.52" filter="url(#b09)"/>
<path d="M183.6 23.0 C189.5 25.2 208.2 30.4 219.1 36.5 C230.0 42.6 240.7 50.1 248.9 59.4 C257.1 68.6 263.0 80.4 268.3 92.0 C273.6 103.7 277.5 116.4 280.7 129.1 C284.0 141.9 285.4 155.7 287.9 168.3 C290.4 180.9 293.1 192.2 295.8 204.6 C298.5 217.0 300.1 230.4 304.1 242.5 C308.1 254.6 312.8 266.2 319.8 277.1 C326.8 288.0 341.9 302.7 346.3 307.8" fill="none" stroke="#7a4a2c" stroke-width="1.9" stroke-linecap="round" opacity="0.49" filter="url(#b09)"/>
<path d="M147.2 30.8 C153.6 29.7 173.6 23.2 185.8 24.7 C197.9 26.1 209.4 33.4 220.0 39.5 C230.6 45.5 241.3 52.2 249.5 61.1 C257.7 70.1 263.8 81.4 269.2 92.9 C274.6 104.5 278.5 117.9 281.8 130.4 C285.2 142.9 287.2 155.1 289.2 167.8 C291.3 180.4 291.6 193.4 294.0 206.1 C296.4 218.7 299.5 231.4 303.7 243.6 C308.0 255.7 316.9 272.9 319.5 278.8" fill="none" stroke="#b06c3c" stroke-width="2.1" stroke-linecap="round" opacity="0.43" filter="url(#b09)"/>
<path d="M249.7 63.6 C252.7 68.7 263.1 82.9 268.1 94.0 C273.2 105.1 276.7 117.8 279.9 130.3 C283.0 142.8 284.5 156.1 287.0 168.9 C289.5 181.7 292.3 194.7 295.0 207.2 C297.7 219.7 299.0 232.2 303.0 243.8 C307.1 255.5 312.5 266.6 319.3 277.2 C326.2 287.8 340.1 302.4 344.2 307.4" fill="none" stroke="#c98f58" stroke-width="3.4" stroke-linecap="round" opacity="0.41" filter="url(#b09)"/>
<path d="M267.6 96.4 C269.6 102.4 276.7 120.0 279.9 132.4 C283.1 144.7 284.6 158.1 286.6 170.6 C288.7 183.0 289.7 194.8 292.1 207.2 C294.4 219.5 296.4 232.9 300.7 244.6 C305.1 256.3 311.0 267.2 318.1 277.4 C325.1 287.5 339.1 300.8 343.3 305.5" fill="none" stroke="#b06c3c" stroke-width="2.0" stroke-linecap="round" opacity="0.36" filter="url(#b09)"/>
<path d="M147.3 33.5 C153.4 32.7 172.1 27.4 184.0 28.8 C195.8 30.1 207.9 35.4 218.6 41.6 C229.2 47.8 239.6 56.5 247.7 65.9 C255.8 75.3 261.8 86.7 267.0 97.9 C272.2 109.0 275.9 121.1 279.1 132.9 C282.3 144.7 284.0 156.6 286.2 168.9 C288.3 181.2 289.8 194.1 292.1 206.7 C294.4 219.4 296.0 233.0 300.0 244.9 C304.0 256.8 309.0 268.1 316.1 278.3 C323.1 288.6 338.1 301.7 342.5 306.4" fill="none" stroke="#d6a36c" stroke-width="2.6" stroke-linecap="round" opacity="0.49" filter="url(#b09)"/>
<path d="M184.8 28.2 C190.6 30.6 209.2 35.8 219.5 42.4 C229.7 49.1 238.5 58.7 246.3 67.9 C254.1 77.1 261.3 86.8 266.5 97.8 C271.7 108.9 274.3 122.0 277.5 134.2 C280.7 146.5 283.5 158.8 285.7 171.2 C287.8 183.6 287.7 195.9 290.2 208.4 C292.7 220.8 296.3 233.9 300.7 245.7 C305.0 257.6 310.0 269.5 316.5 279.5 C323.0 289.6 335.9 301.6 339.8 306.0" fill="none" stroke="#a9683a" stroke-width="1.7" stroke-linecap="round" opacity="0.36" filter="url(#b09)"/>
<path d="M185.5 30.1 C190.8 32.5 207.2 38.8 217.6 44.8 C228.0 50.9 239.4 57.6 247.7 66.5 C255.9 75.5 262.1 87.1 267.1 98.7 C272.1 110.2 274.7 123.7 277.8 135.7 C280.8 147.7 283.3 158.5 285.4 170.6 C287.5 182.8 288.1 196.3 290.3 208.6 C292.6 220.8 297.6 238.2 299.0 244.1" fill="none" stroke="#a9683a" stroke-width="2.6" stroke-linecap="round" opacity="0.37" filter="url(#b09)"/>
<path d="M121.4 63.4 C125.9 59.1 137.8 42.9 148.2 37.5 C158.7 32.0 172.2 29.6 184.0 30.9 C195.8 32.2 208.6 38.7 219.0 45.2 C229.4 51.8 238.5 60.8 246.3 70.1 C254.1 79.5 260.5 90.3 265.7 101.2 C271.0 112.2 274.7 124.0 277.6 135.9 C280.6 147.8 282.4 166.6 283.3 172.8" fill="none" stroke="#d6a36c" stroke-width="3.3" stroke-linecap="round" opacity="0.32" filter="url(#b09)"/>
<path d="M149.3 38.3 C155.1 37.2 173.1 30.2 184.5 31.6 C196.0 32.9 207.9 40.2 217.9 46.5 C227.8 52.9 236.7 60.6 244.3 69.7 C251.8 78.8 258.0 90.0 263.2 101.1 C268.4 112.3 272.1 124.6 275.4 136.5 C278.8 148.5 281.0 160.8 283.1 172.9 C285.2 185.0 285.8 197.3 288.0 209.2 C290.3 221.2 295.1 238.7 296.5 244.6" fill="none" stroke="#c98f58" stroke-width="1.8" stroke-linecap="round" opacity="0.5" filter="url(#b09)"/>
<path d="M149.0 37.9 C155.1 37.3 174.2 32.5 185.6 34.3 C196.9 36.1 207.3 42.5 217.3 48.7 C227.2 55.0 237.6 62.7 245.4 71.7 C253.1 80.6 258.8 91.4 263.6 102.2 C268.5 113.1 271.5 124.7 274.4 136.7 C277.2 148.8 278.9 162.3 280.9 174.5 C283.0 186.6 284.5 197.5 286.8 209.6 C289.2 221.6 290.9 235.2 295.3 246.9 C299.6 258.5 310.1 274.0 313.1 279.4" fill="none" stroke="#8f5a36" stroke-width="2.1" stroke-linecap="round" opacity="0.3" filter="url(#b09)"/>
<path d="M243.4 72.0 C246.8 77.2 258.3 92.1 263.6 103.0 C269.0 114.0 272.4 125.7 275.4 137.5 C278.5 149.3 280.1 161.6 282.0 173.8 C283.9 185.9 284.6 198.5 286.8 210.7 C288.9 222.8 290.9 235.1 294.9 246.7 C298.8 258.3 303.3 270.5 310.3 280.2 C317.3 289.9 332.4 300.8 336.9 304.9" fill="none" stroke="#d6a36c" stroke-width="2.4" stroke-linecap="round" opacity="0.38" filter="url(#b09)"/>
<path d="M244.4 73.5 C247.4 78.8 257.3 94.1 262.4 105.3 C267.4 116.5 271.4 128.9 274.5 140.6 C277.5 152.4 278.8 164.0 280.8 175.9 C282.7 187.9 283.8 200.5 286.1 212.2 C288.4 223.9 290.6 235.2 294.4 246.3 C298.1 257.3 302.2 268.7 308.8 278.4 C315.5 288.1 330.0 300.3 334.2 304.7" fill="none" stroke="#dcae78" stroke-width="1.6" stroke-linecap="round" opacity="0.43" filter="url(#b09)"/>
<path d="M149.1 41.2 C155.2 40.2 174.9 33.4 186.2 35.2 C197.5 37.0 207.5 45.3 217.0 52.0 C226.5 58.8 235.7 66.8 243.3 75.6 C251.0 84.5 257.8 94.5 262.9 105.1 C268.0 115.8 271.1 127.8 274.0 139.6 C276.9 151.4 278.1 164.0 280.0 175.9 C282.0 187.8 283.2 199.2 285.6 211.0 C288.0 222.8 290.7 235.1 294.5 246.6 C298.3 258.0 302.0 269.8 308.5 279.6 C315.0 289.5 329.3 301.5 333.4 305.8" fill="none" stroke="#dcae78" stroke-width="2.2" stroke-linecap="round" opacity="0.44" filter="url(#b09)"/>
<path d="M123.2 65.2 C127.8 61.2 140.3 46.1 150.7 41.3 C161.1 36.5 174.7 34.7 185.7 36.5 C196.7 38.3 207.2 45.9 216.8 52.3 C226.3 58.7 235.3 66.1 242.9 75.0 C250.5 83.9 257.3 94.8 262.5 106.0 C267.6 117.1 271.4 130.3 273.9 142.1 C276.5 153.8 276.0 164.6 277.8 176.5 C279.7 188.5 282.3 201.9 284.8 213.6 C287.2 225.3 291.3 241.3 292.6 246.8" fill="none" stroke="#a9683a" stroke-width="1.9" stroke-linecap="round" opacity="0.51" filter="url(#b09)"/>
<path d="M259.7 107.9 C261.7 113.7 268.5 131.4 271.3 143.2 C274.2 154.9 274.6 166.8 276.7 178.3 C278.7 189.8 280.9 200.7 283.5 212.3 C286.1 224.0 288.2 237.3 292.4 248.4 C296.5 259.5 302.0 269.6 308.5 279.1 C315.1 288.5 327.8 300.8 331.7 305.1" fill="none" stroke="#a9683a" stroke-width="3.5" stroke-linecap="round" opacity="0.49" filter="url(#b09)"/>
<path d="M259.6 108.5 C261.6 114.3 268.5 131.6 271.5 143.3 C274.5 155.0 276.2 167.2 277.7 178.8 C279.3 190.4 278.6 201.4 280.8 213.0 C283.0 224.5 286.9 237.1 291.2 248.1 C295.5 259.1 299.9 269.3 306.6 278.9 C313.4 288.4 327.5 300.9 331.6 305.3" fill="none" stroke="#8f5a36" stroke-width="2.5" stroke-linecap="round" opacity="0.39" filter="url(#b09)"/>
<path d="M240.5 79.2 C243.8 84.4 255.5 99.3 260.4 110.3 C265.3 121.2 266.9 133.6 269.8 145.0 C272.7 156.5 275.9 167.5 277.6 178.9 C279.3 190.4 278.3 202.0 280.1 213.6 C282.0 225.1 284.5 237.2 288.6 248.2 C292.7 259.1 298.0 269.6 304.9 279.2 C311.7 288.7 325.5 301.0 329.6 305.4" fill="none" stroke="#c98f58" stroke-width="2.4" stroke-linecap="round" opacity="0.49" filter="url(#b09)"/>
<path d="M259.8 111.0 C261.5 116.7 267.6 133.2 270.2 144.7 C272.7 156.3 273.3 169.0 275.2 180.5 C277.0 192.0 279.0 202.4 281.3 213.9 C283.5 225.4 284.4 238.3 288.5 249.5 C292.6 260.7 299.0 271.9 305.7 281.0 C312.5 290.1 325.3 300.3 329.3 304.1" fill="none" stroke="#d6a36c" stroke-width="3.3" stroke-linecap="round" opacity="0.54" filter="url(#b09)"/>
<path d="M186.6 43.0 C191.5 45.7 206.8 52.8 215.8 59.4 C224.7 66.0 233.3 73.6 240.2 82.5 C247.1 91.5 252.3 102.4 257.0 113.2 C261.7 123.9 265.4 135.7 268.4 146.9 C271.4 158.0 273.5 168.7 275.2 180.1 C276.8 191.4 276.1 203.2 278.3 214.8 C280.4 226.4 283.9 239.0 288.0 249.7 C292.2 260.4 300.6 274.1 303.1 279.0" fill="none" stroke="#d6a36c" stroke-width="1.6" stroke-linecap="round" opacity="0.43" filter="url(#b09)"/>
<path d="M239.9 83.3 C242.6 88.6 251.6 104.7 256.4 115.2 C261.1 125.7 265.5 135.3 268.3 146.4 C271.0 157.4 271.3 169.9 272.9 181.5 C274.4 193.2 275.1 204.8 277.4 216.3 C279.7 227.8 282.5 239.7 286.6 250.4 C290.8 261.0 295.8 270.9 302.3 279.9 C308.8 289.0 321.7 300.4 325.5 304.4" fill="none" stroke="#c98f58" stroke-width="3.5" stroke-linecap="round" opacity="0.38" filter="url(#b09)"/>
<path d="M153.0 46.7 C158.7 46.4 176.6 42.6 186.8 45.0 C197.0 47.4 205.4 54.3 214.1 61.1 C222.7 67.9 231.6 77.0 238.9 85.9 C246.1 94.7 252.9 104.1 257.6 114.4 C262.3 124.6 264.3 136.3 267.0 147.5 C269.8 158.7 272.5 170.1 273.9 181.5 C275.4 192.9 273.9 204.2 275.8 215.8 C277.6 227.4 283.5 245.2 285.1 251.1" fill="none" stroke="#d6a36c" stroke-width="3.1" stroke-linecap="round" opacity="0.31" filter="url(#b09)"/>
<path d="M237.7 87.7 C240.6 92.4 250.3 105.5 255.3 115.9 C260.3 126.2 264.7 138.7 267.4 149.8 C270.2 160.8 270.5 170.7 271.9 181.9 C273.4 193.1 273.7 205.7 276.0 217.0 C278.2 228.3 281.4 239.0 285.5 249.7 C289.6 260.4 294.3 272.2 300.7 281.4 C307.1 290.5 320.0 300.7 323.9 304.6" fill="none" stroke="#7a4a2c" stroke-width="2.4" stroke-linecap="round" opacity="0.42" filter="url(#b09)"/>
<path d="M238.6 88.4 C241.6 93.2 251.7 106.6 256.3 117.0 C260.9 127.3 263.8 138.9 266.4 150.3 C269.0 161.6 270.7 173.5 271.9 184.9 C273.2 196.3 272.2 207.6 274.0 218.7 C275.7 229.8 278.1 241.0 282.5 251.4 C286.8 261.8 292.9 272.1 299.9 281.2 C307.0 290.2 320.5 301.6 324.6 305.7" fill="none" stroke="#c98f58" stroke-width="2.0" stroke-linecap="round" opacity="0.5" filter="url(#b09)"/>
<path d="M153.5 49.2 C158.8 48.9 175.2 45.3 185.4 47.8 C195.6 50.3 206.2 57.3 214.8 64.3 C223.3 71.3 230.3 80.9 236.8 89.8 C243.4 98.6 249.5 107.2 254.1 117.5 C258.6 127.7 261.4 139.7 264.1 151.0 C266.7 162.4 268.2 174.3 270.0 185.7 C271.8 197.2 273.1 208.9 275.0 219.6 C277.0 230.4 278.1 240.0 281.9 250.2 C285.8 260.4 295.5 275.6 298.2 280.6" fill="none" stroke="#d6a36c" stroke-width="3.4" stroke-linecap="round" opacity="0.36" filter="url(#b09)"/>
<path d="M154.1 49.8 C159.3 49.5 175.5 45.8 185.4 48.4 C195.2 51.1 204.7 59.0 213.3 65.8 C221.9 72.6 230.3 80.6 237.0 89.4 C243.7 98.3 248.7 108.7 253.5 118.9 C258.3 129.2 263.0 140.0 265.6 150.9 C268.1 161.9 267.5 173.3 268.7 184.6 C269.9 195.9 270.5 208.0 272.7 219.0 C275.0 230.0 277.8 240.4 282.0 250.5 C286.3 260.6 295.6 274.8 298.3 279.6" fill="none" stroke="#a9683a" stroke-width="1.7" stroke-linecap="round" opacity="0.37" filter="url(#b09)"/>
<path d="M153.8 51.8 C159.1 51.6 175.7 48.1 185.6 50.6 C195.6 53.0 204.9 59.7 213.6 66.6 C222.2 73.5 230.9 83.1 237.4 92.1 C244.0 101.1 248.3 110.5 252.7 120.4 C257.2 130.3 261.7 140.9 264.4 151.6 C267.1 162.4 267.6 173.6 268.9 184.8 C270.2 196.0 271.5 213.1 272.0 218.7" fill="none" stroke="#8f5a36" stroke-width="1.7" stroke-linecap="round" opacity="0.42" filter="url(#b09)"/>
<path d="M129.0 74.9 C133.2 70.9 144.9 54.9 154.4 51.0 C163.9 47.1 176.3 48.6 186.1 51.4 C195.9 54.3 204.6 61.3 213.1 68.2 C221.7 75.2 230.7 84.3 237.3 93.0 C243.9 101.8 248.2 110.3 252.7 120.5 C257.1 130.8 261.9 148.8 263.8 154.4" fill="none" stroke="#d6a36c" stroke-width="3.4" stroke-linecap="round" opacity="0.42" filter="url(#b09)"/>
<path d="M234.9 93.1 C237.8 98.1 248.0 113.3 252.4 123.5 C256.9 133.7 259.1 143.4 261.7 154.2 C264.3 165.0 266.9 177.4 268.3 188.3 C269.7 199.2 268.1 208.7 270.1 219.6 C272.1 230.5 275.8 243.6 280.1 253.6 C284.4 263.7 289.1 271.6 295.9 280.0 C302.6 288.4 316.5 300.0 320.6 304.0" fill="none" stroke="#b06c3c" stroke-width="3.4" stroke-linecap="round" opacity="0.46" filter="url(#b09)"/>
<path d="M153.9 53.7 C159.3 53.5 176.3 49.5 186.3 52.4 C196.3 55.2 205.8 63.7 213.9 70.7 C221.9 77.8 228.1 85.6 234.6 94.7 C241.0 103.7 248.1 114.6 252.5 124.9 C256.9 135.3 258.3 146.0 260.8 156.6 C263.2 167.2 265.6 178.1 267.1 188.8 C268.6 199.5 268.1 210.3 269.8 220.9 C271.5 231.6 273.1 242.8 277.3 252.9 C281.6 263.1 292.3 277.1 295.3 281.9" fill="none" stroke="#a9683a" stroke-width="2.5" stroke-linecap="round" opacity="0.41" filter="url(#b09)"/>
<path d="M130.5 75.8 C134.4 72.3 144.7 58.3 154.1 54.7 C163.5 51.0 177.2 50.8 186.8 53.7 C196.5 56.6 204.1 65.0 212.0 71.9 C219.8 78.8 227.3 86.4 233.8 95.0 C240.3 103.7 246.4 113.4 251.0 123.6 C255.5 133.7 258.8 145.1 261.1 156.0 C263.5 166.9 263.8 177.9 264.9 189.0 C266.1 200.0 265.9 211.4 268.1 222.1 C270.2 232.8 273.7 243.3 277.9 253.2 C282.1 263.1 286.5 272.6 293.1 281.3 C299.7 289.9 313.4 301.2 317.4 305.2" fill="none" stroke="#d6a36c" stroke-width="3.1" stroke-linecap="round" opacity="0.5" filter="url(#b09)"/>
<path d="M249.6 126.8 C251.3 132.0 257.5 147.4 259.9 157.8 C262.4 168.3 262.7 178.9 264.3 189.5 C265.8 200.1 267.1 210.8 269.0 221.5 C270.9 232.2 271.6 243.8 275.6 253.6 C279.5 263.4 286.0 272.0 292.7 280.3 C299.4 288.6 312.0 299.4 315.8 303.2" fill="none" stroke="#c98f58" stroke-width="1.9" stroke-linecap="round" opacity="0.5" filter="url(#b09)"/>
<path d="M249.6 127.6 C251.2 132.8 256.7 148.7 259.2 159.1 C261.7 169.5 263.1 179.3 264.5 189.8 C266.0 200.4 266.1 211.8 267.8 222.6 C269.4 233.4 270.6 244.6 274.5 254.5 C278.4 264.5 284.4 274.0 291.2 282.3 C298.0 290.6 311.1 300.6 315.1 304.3" fill="none" stroke="#dcae78" stroke-width="3.4" stroke-linecap="round" opacity="0.48" filter="url(#b09)"/>
<path d="M130.9 77.6 C135.0 74.1 146.8 60.3 156.0 56.8 C165.2 53.3 176.7 53.2 186.0 56.5 C195.3 59.8 204.2 69.5 211.8 76.6 C219.4 83.8 225.6 90.8 231.8 99.3 C238.0 107.9 244.5 118.1 249.0 128.1 C253.5 138.1 257.1 154.2 258.8 159.4" fill="none" stroke="#dcae78" stroke-width="3.2" stroke-linecap="round" opacity="0.4" filter="url(#b09)"/>
<path d="M232.0 102.1 C234.6 106.7 243.0 119.8 247.3 129.3 C251.7 138.8 255.7 148.7 258.0 159.3 C260.4 169.8 260.6 181.6 261.6 192.4 C262.6 203.2 261.9 213.8 264.0 224.1 C266.1 234.3 270.0 244.2 274.3 253.8 C278.5 263.5 283.1 273.6 289.6 282.0 C296.2 290.4 309.6 300.4 313.6 304.1" fill="none" stroke="#a9683a" stroke-width="1.7" stroke-linecap="round" opacity="0.46" filter="url(#b09)"/>
<path d="M246.8 131.4 C248.4 136.5 253.6 151.9 256.2 162.3 C258.8 172.8 261.2 183.8 262.4 194.0 C263.5 204.3 261.5 213.5 263.1 223.8 C264.7 234.0 267.6 245.8 272.0 255.7 C276.4 265.6 282.5 275.0 289.3 282.9 C296.2 290.8 309.2 299.8 313.2 303.1" fill="none" stroke="#7a4a2c" stroke-width="3.4" stroke-linecap="round" opacity="0.3" filter="url(#b09)"/>
<path d="M247.6 131.9 C249.3 136.8 255.6 151.4 258.0 161.7 C260.3 172.0 260.8 183.2 261.8 193.7 C262.9 204.3 262.5 214.6 264.1 224.9 C265.8 235.2 267.8 246.2 271.8 255.6 C275.8 265.0 281.4 273.5 288.1 281.3 C294.7 289.1 308.0 299.0 311.9 302.6" fill="none" stroke="#7a4a2c" stroke-width="1.8" stroke-linecap="round" opacity="0.46" filter="url(#b09)"/>
<path d="M134.0 80.8 C137.6 77.2 146.7 62.4 155.5 59.0 C164.4 55.6 177.8 56.8 186.9 60.2 C195.9 63.6 202.4 72.0 209.9 79.6 C217.4 87.1 226.0 96.5 232.0 105.5 C237.9 114.5 241.8 124.0 245.8 133.6 C249.9 143.2 253.7 152.9 256.2 163.0 C258.8 173.2 260.1 184.2 261.2 194.6 C262.3 204.9 261.5 215.2 262.9 225.3 C264.4 235.4 265.8 245.4 269.8 255.0 C273.7 264.7 283.8 278.5 286.6 283.2" fill="none" stroke="#dcae78" stroke-width="2.2" stroke-linecap="round" opacity="0.32" filter="url(#b09)"/>
<path d="M230.3 105.6 C233.1 110.2 242.7 123.9 247.1 133.6 C251.4 143.3 254.4 153.6 256.3 163.8 C258.2 173.9 257.5 183.9 258.4 194.4 C259.2 204.9 259.6 216.4 261.4 226.8 C263.2 237.1 264.9 247.5 269.1 256.6 C273.4 265.7 280.0 273.9 286.9 281.5 C293.8 289.2 306.7 299.0 310.7 302.4" fill="none" stroke="#7a4a2c" stroke-width="2.6" stroke-linecap="round" opacity="0.37" filter="url(#b09)"/>
<path d="M229.9 108.1 C232.3 112.8 239.9 126.7 244.1 136.0 C248.4 145.4 253.2 154.1 255.4 164.3 C257.7 174.4 256.6 186.4 257.5 196.9 C258.4 207.3 258.8 217.0 260.7 227.0 C262.7 237.0 265.2 247.6 269.2 256.8 C273.1 266.0 278.1 274.0 284.5 282.0 C290.8 289.9 303.5 300.6 307.4 304.3" fill="none" stroke="#c98f58" stroke-width="3.4" stroke-linecap="round" opacity="0.31" filter="url(#b09)"/>
<path d="M157.5 62.1 C162.5 62.4 178.8 60.1 187.6 63.8 C196.4 67.6 203.0 76.9 210.1 84.5 C217.2 92.0 224.4 100.7 230.2 109.2 C236.0 117.7 241.0 126.3 244.9 135.5 C248.8 144.8 251.3 154.5 253.6 164.6 C255.8 174.8 257.5 186.3 258.6 196.6 C259.7 206.9 259.9 221.5 260.2 226.5" fill="none" stroke="#a9683a" stroke-width="3.1" stroke-linecap="round" opacity="0.51" filter="url(#b09)"/>
<path d="M230.0 111.5 C232.1 115.9 239.2 128.7 242.9 137.8 C246.7 146.8 250.1 156.0 252.3 165.9 C254.5 175.7 255.0 186.5 255.9 196.7 C256.8 207.0 256.3 217.3 257.8 227.5 C259.4 237.8 261.0 249.0 265.2 258.3 C269.5 267.6 276.3 276.2 283.2 283.5 C290.0 290.8 302.5 298.9 306.4 302.0" fill="none" stroke="#8f5a36" stroke-width="2.6" stroke-linecap="round" opacity="0.46" filter="url(#b09)"/>
<path d="M209.8 87.7 C212.9 91.5 222.6 102.1 228.2 110.7 C233.9 119.3 239.6 129.7 243.7 139.3 C247.8 148.8 250.9 158.2 253.1 168.0 C255.2 177.8 256.1 188.2 256.9 198.3 C257.7 208.4 256.5 218.5 257.9 228.5 C259.2 238.4 260.9 249.0 264.9 258.0 C268.9 267.0 275.0 274.9 281.9 282.5 C288.8 290.1 302.2 300.1 306.3 303.6" fill="none" stroke="#c98f58" stroke-width="2.6" stroke-linecap="round" opacity="0.3" filter="url(#b09)"/>
<path d="M96.3 126.9 C97.2 133.0 100.0 152.2 101.6 163.8 C103.2 175.5 104.2 185.3 105.9 196.8 C107.5 208.3 109.2 221.1 111.5 232.6 C113.8 244.1 117.8 254.4 119.6 265.9 C121.4 277.5 125.0 291.5 122.3 302.1 C119.5 312.8 110.2 320.9 103.2 329.9 C96.2 338.9 87.1 346.6 80.4 356.1 C73.8 365.7 67.9 376.2 63.2 387.1 C58.5 398.0 54.0 415.8 52.2 421.5" fill="none" stroke="#b5652f" stroke-width="2.4" stroke-linecap="round" opacity="0.49" filter="url(#b09)"/>
<path d="M101.1 163.0 C102.2 168.7 106.1 185.8 107.9 197.3 C109.8 208.7 110.4 219.9 112.4 231.6 C114.4 243.4 118.1 256.4 119.9 267.9 C121.7 279.5 126.0 290.4 123.4 300.9 C120.9 311.3 111.9 321.3 104.7 330.6 C97.6 339.9 87.3 347.0 80.4 356.6 C73.6 366.2 68.2 377.5 63.7 388.3 C59.1 399.0 55.0 415.4 53.2 420.8" fill="none" stroke="#b5652f" stroke-width="2.3" stroke-linecap="round" opacity="0.46" filter="url(#b09)"/>
<path d="M109.4 198.2 C110.4 204.0 113.3 221.5 115.3 232.9 C117.3 244.3 119.6 255.0 121.5 266.5 C123.4 278.0 129.2 291.1 126.7 301.9 C124.1 312.7 113.3 321.9 106.2 331.2 C99.0 340.6 90.3 348.4 83.5 357.9 C76.7 367.4 70.3 377.5 65.3 388.2 C60.4 398.8 55.8 416.2 53.9 421.8" fill="none" stroke="#ddb184" stroke-width="3.2" stroke-linecap="round" opacity="0.34" filter="url(#b09)"/>
<path d="M99.4 130.0 C100.1 135.7 101.3 152.7 103.2 164.3 C105.1 175.9 108.5 188.4 110.9 199.8 C113.3 211.2 115.1 221.2 117.4 232.7 C119.8 244.3 123.5 257.1 125.1 269.0 C126.7 280.8 129.8 293.3 127.1 304.0 C124.4 314.6 115.7 323.7 108.8 333.0 C101.9 342.2 92.6 350.2 85.6 359.5 C78.6 368.8 72.2 378.5 67.0 388.8 C61.8 399.1 56.4 415.8 54.3 421.2" fill="none" stroke="#b06c3c" stroke-width="2.9" stroke-linecap="round" opacity="0.33" filter="url(#b09)"/>
<path d="M113.4 63.9 C111.4 69.2 103.4 84.6 101.1 96.0 C98.7 107.3 98.7 120.4 99.3 131.9 C100.0 143.4 103.1 153.6 105.1 164.9 C107.1 176.2 109.1 188.3 111.4 199.6 C113.8 211.0 117.0 221.4 119.2 233.0 C121.4 244.5 122.9 257.3 124.5 269.0 C126.1 280.6 131.2 292.2 128.7 302.8 C126.1 313.3 116.2 323.0 109.2 332.3 C102.3 341.7 90.8 354.7 87.1 359.1" fill="none" stroke="#ddb184" stroke-width="3.2" stroke-linecap="round" opacity="0.32" filter="url(#b09)"/>
<path d="M114.8 63.2 C112.5 68.8 103.7 85.4 101.2 96.7 C98.6 108.0 98.6 119.5 99.5 131.0 C100.4 142.6 103.9 154.6 106.5 166.1 C109.0 177.6 112.3 188.9 114.9 200.2 C117.5 211.6 120.0 222.5 122.0 233.9 C124.1 245.3 125.7 257.0 127.0 268.6 C128.3 280.2 129.4 297.7 129.9 303.5" fill="none" stroke="#d39a5e" stroke-width="1.9" stroke-linecap="round" opacity="0.54" filter="url(#b09)"/>
<path d="M105.9 165.9 C107.6 171.7 113.3 189.1 116.1 200.5 C119.0 211.8 120.9 222.2 123.0 233.7 C125.1 245.3 127.1 258.0 128.6 269.6 C130.1 281.3 134.5 292.8 131.9 303.5 C129.3 314.3 120.2 324.9 113.2 334.1 C106.2 343.2 97.4 349.4 89.9 358.5 C82.4 367.6 73.7 378.5 68.3 388.7 C62.9 399.0 59.1 414.6 57.3 419.8" fill="none" stroke="#e3c6a2" stroke-width="3.1" stroke-linecap="round" opacity="0.53" filter="url(#b09)"/>
<path d="M101.5 133.3 C102.6 139.1 105.6 156.3 108.3 167.7 C110.9 179.1 114.5 190.6 117.5 201.7 C120.5 212.8 123.8 223.2 126.1 234.4 C128.5 245.7 130.2 257.3 131.5 269.2 C132.8 281.1 136.5 294.9 133.9 306.0 C131.2 317.0 122.7 326.6 115.5 335.5 C108.4 344.3 98.6 350.0 91.2 358.9 C83.7 367.8 76.3 378.5 71.0 388.9 C65.7 399.4 61.2 416.1 59.3 421.6" fill="none" stroke="#9b5a30" stroke-width="1.8" stroke-linecap="round" opacity="0.42" filter="url(#b09)"/>
<path d="M127.5 236.0 C128.6 242.0 132.7 260.2 134.2 272.0 C135.7 283.7 139.3 296.1 136.6 306.5 C133.9 316.9 125.1 325.3 117.9 334.3 C110.8 343.2 101.3 351.0 93.8 360.1 C86.3 369.2 78.6 378.7 72.9 388.9 C67.2 399.1 61.8 415.9 59.6 421.3" fill="none" stroke="#7a4a2c" stroke-width="1.6" stroke-linecap="round" opacity="0.3" filter="url(#b09)"/>
<path d="M116.6 66.1 C114.4 71.9 106.0 89.2 103.7 100.9 C101.4 112.6 101.7 125.1 102.8 136.4 C104.0 147.7 107.7 157.5 110.7 168.6 C113.6 179.6 117.5 191.3 120.5 202.7 C123.5 214.1 126.4 225.4 128.7 236.9 C131.0 248.5 132.7 260.5 134.2 272.1 C135.8 283.7 140.5 296.2 138.0 306.7 C135.5 317.3 126.5 326.2 119.2 335.4 C111.9 344.5 101.5 352.5 94.2 361.6 C86.8 370.6 80.6 380.0 74.9 389.7 C69.2 399.4 62.5 414.8 60.0 419.8" fill="none" stroke="#ddb184" stroke-width="3.3" stroke-linecap="round" opacity="0.48" filter="url(#b09)"/>
<path d="M110.9 170.7 C112.6 176.0 117.7 191.7 120.9 202.7 C124.2 213.6 127.8 225.0 130.2 236.3 C132.6 247.7 133.8 259.0 135.4 270.8 C137.1 282.7 142.7 296.5 140.2 307.3 C137.7 318.0 128.1 326.2 120.4 335.3 C112.8 344.5 101.8 353.2 94.4 362.0 C86.9 370.9 81.1 378.5 75.6 388.3 C70.1 398.1 63.8 415.5 61.4 421.0" fill="none" stroke="#b06c3c" stroke-width="2.3" stroke-linecap="round" opacity="0.32" filter="url(#b09)"/>
<path d="M105.9 103.0 C105.6 108.7 103.3 126.0 104.5 137.4 C105.7 148.7 110.2 160.1 113.3 171.0 C116.4 182.0 119.8 191.8 123.1 203.0 C126.4 214.2 130.5 226.8 133.1 238.2 C135.6 249.6 137.0 259.8 138.6 271.4 C140.2 283.1 145.3 297.2 142.5 308.1 C139.7 319.0 125.1 332.1 121.6 336.8" fill="none" stroke="#d39a5e" stroke-width="2.3" stroke-linecap="round" opacity="0.44" filter="url(#b09)"/>
<path d="M133.8 237.9 C134.7 243.6 137.4 259.9 139.2 271.8 C141.0 283.6 147.0 297.9 144.5 308.8 C141.9 319.8 131.5 328.3 123.8 337.3 C116.1 346.3 106.1 353.8 98.3 362.7 C90.5 371.6 83.2 381.0 77.3 390.6 C71.3 400.3 65.2 415.8 62.8 420.8" fill="none" stroke="#7a4a2c" stroke-width="2.3" stroke-linecap="round" opacity="0.55" filter="url(#b09)"/>
<path d="M136.5 237.4 C137.3 243.3 140.5 260.7 141.7 272.8 C143.0 284.8 146.8 298.8 144.1 309.5 C141.4 320.2 132.7 328.2 125.6 336.9 C118.4 345.7 109.2 353.2 101.3 362.1 C93.3 371.0 84.6 380.5 78.1 390.3 C71.5 400.1 64.8 415.9 62.2 421.1" fill="none" stroke="#7a4a2c" stroke-width="3.3" stroke-linecap="round" opacity="0.31" filter="url(#b09)"/>
<path d="M139.1 238.1 C139.9 244.0 143.0 261.7 144.2 273.5 C145.5 285.4 149.4 298.5 146.5 309.2 C143.6 320.0 134.6 328.8 127.1 337.8 C119.6 346.8 109.6 354.6 101.7 363.4 C93.7 372.2 85.6 381.3 79.2 390.5 C72.8 399.7 66.0 414.1 63.3 418.8" fill="none" stroke="#ddb184" stroke-width="3.4" stroke-linecap="round" opacity="0.33" filter="url(#b09)"/>
<path d="M108.3 105.5 C108.3 111.3 106.4 128.6 108.1 140.1 C109.7 151.5 114.3 163.2 118.0 174.1 C121.7 184.9 126.8 194.3 130.4 205.0 C133.9 215.7 136.5 226.7 139.2 238.3 C141.9 249.9 145.1 262.6 146.5 274.6 C148.0 286.7 150.8 299.9 147.8 310.6 C144.9 321.3 136.1 329.9 128.6 338.6 C121.1 347.3 110.6 354.2 102.8 362.7 C95.1 371.2 88.6 380.2 82.1 389.7 C75.7 399.2 66.9 414.8 63.9 419.8" fill="none" stroke="#9b5a30" stroke-width="1.9" stroke-linecap="round" opacity="0.43" filter="url(#b09)"/>
<path d="M108.3 106.9 C108.3 112.8 106.3 130.7 108.2 142.0 C110.1 153.3 115.8 164.2 119.6 174.8 C123.5 185.5 127.7 195.1 131.3 205.9 C134.9 216.7 138.6 228.3 141.4 239.7 C144.2 251.1 146.3 262.3 148.0 274.3 C149.7 286.3 154.5 300.6 151.5 311.5 C148.6 322.4 138.1 331.1 130.4 339.8 C122.7 348.5 113.3 355.4 105.3 363.8 C97.4 372.2 86.6 385.8 82.8 390.2" fill="none" stroke="#7a4a2c" stroke-width="3.4" stroke-linecap="round" opacity="0.35" filter="url(#b09)"/>
<path d="M133.4 206.5 C135.0 212.2 140.3 229.1 143.1 240.7 C145.9 252.4 148.9 264.8 150.4 276.4 C152.0 288.0 155.7 299.5 152.6 310.2 C149.5 320.9 139.5 331.5 131.9 340.6 C124.2 349.7 114.9 356.2 106.8 364.7 C98.6 373.1 89.8 381.9 83.0 391.3 C76.2 400.6 68.8 415.6 66.0 420.5" fill="none" stroke="#7a4a2c" stroke-width="2.4" stroke-linecap="round" opacity="0.49" filter="url(#b09)"/>
<path d="M119.6 73.0 C117.9 78.9 110.9 96.9 109.2 108.6 C107.4 120.4 107.3 131.8 109.2 143.2 C111.1 154.7 116.3 166.2 120.5 177.1 C124.6 188.0 129.8 198.0 134.1 208.5 C138.3 218.9 143.4 228.6 146.2 239.7 C148.9 250.9 149.4 263.3 150.8 275.4 C152.2 287.5 157.1 301.3 154.4 312.3 C151.7 323.3 142.4 332.4 134.7 341.3 C127.0 350.1 116.6 357.3 108.2 365.3 C99.8 373.4 88.3 385.6 84.4 389.7" fill="none" stroke="#b5652f" stroke-width="1.6" stroke-linecap="round" opacity="0.54" filter="url(#b09)"/>
<path d="M122.0 176.3 C124.1 181.6 130.7 197.5 134.9 208.3 C139.2 219.2 144.1 230.2 147.2 241.4 C150.3 252.6 152.1 263.8 153.7 275.6 C155.2 287.4 159.5 301.7 156.4 312.4 C153.2 323.2 142.6 331.3 134.8 340.1 C127.1 348.8 117.9 356.5 109.7 364.8 C101.5 373.1 92.7 380.9 85.7 389.9 C78.7 398.9 70.6 413.9 67.6 418.7" fill="none" stroke="#b5652f" stroke-width="2.9" stroke-linecap="round" opacity="0.42" filter="url(#b09)"/>
<path d="M121.7 179.0 C124.2 183.9 132.3 197.8 136.8 208.4 C141.4 219.0 145.8 231.1 149.0 242.7 C152.1 254.3 154.4 266.1 155.8 278.0 C157.3 289.8 160.7 303.1 157.7 313.7 C154.6 324.3 145.2 332.9 137.5 341.4 C129.8 349.9 120.1 356.5 111.6 364.9 C103.2 373.2 94.1 382.2 86.9 391.5 C79.7 400.7 71.5 415.5 68.4 420.4" fill="none" stroke="#9b5a30" stroke-width="2.7" stroke-linecap="round" opacity="0.32" filter="url(#b09)"/>
<path d="M124.2 179.4 C127.0 184.6 136.2 199.7 140.5 210.2 C144.8 220.8 147.3 231.4 150.0 242.7 C152.7 254.0 155.2 266.4 156.7 278.1 C158.1 289.9 161.4 302.5 158.8 313.2 C156.1 324.0 148.5 333.7 140.8 342.5 C133.1 351.2 121.2 357.5 112.5 365.8 C103.9 374.1 96.1 383.4 88.9 392.3 C81.6 401.2 72.4 414.5 69.1 418.9" fill="none" stroke="#d39a5e" stroke-width="1.8" stroke-linecap="round" opacity="0.45" filter="url(#b09)"/>
<path d="M114.1 146.1 C116.1 151.8 121.5 169.7 126.1 180.4 C130.6 191.0 136.5 199.7 141.2 210.0 C145.9 220.4 151.2 231.0 154.2 242.4 C157.3 253.8 158.4 266.5 159.6 278.6 C160.8 290.6 164.5 304.2 161.5 314.9 C158.5 325.6 149.3 334.6 141.8 342.9 C134.2 351.3 124.7 357.2 116.1 365.1 C107.5 373.1 98.0 381.5 90.4 390.7 C82.9 399.9 74.1 415.5 70.9 420.4" fill="none" stroke="#b5652f" stroke-width="3.3" stroke-linecap="round" opacity="0.36" filter="url(#b09)"/>
<path d="M115.1 146.5 C116.8 152.2 120.6 170.7 125.2 181.2 C129.8 191.7 137.8 199.1 142.7 209.5 C147.6 219.8 151.7 231.9 154.8 243.3 C158.0 254.7 160.5 265.9 161.7 277.9 C163.0 289.9 165.4 304.7 162.4 315.4 C159.5 326.2 151.8 334.1 144.0 342.5 C136.3 351.0 124.7 358.0 116.0 366.2 C107.4 374.4 99.5 382.9 92.2 391.9 C84.8 400.9 75.5 415.3 72.2 420.0" fill="none" stroke="#b06c3c" stroke-width="2.1" stroke-linecap="round" opacity="0.46" filter="url(#b09)"/>
<path d="M115.4 147.2 C117.4 153.1 122.5 171.5 127.2 182.3 C131.9 193.1 138.8 201.7 143.7 212.0 C148.6 222.3 153.5 232.9 156.6 244.3 C159.6 255.6 160.7 268.5 162.2 280.2 C163.7 291.9 168.3 303.9 165.4 314.4 C162.5 325.0 152.9 334.8 145.0 343.6 C137.1 352.4 126.8 359.4 118.2 367.2 C109.6 375.1 97.6 386.7 93.5 390.6" fill="none" stroke="#d39a5e" stroke-width="3.2" stroke-linecap="round" opacity="0.41" filter="url(#b09)"/>
<path d="M116.2 148.2 C118.2 154.0 122.8 172.1 127.9 182.9 C133.0 193.6 141.8 202.5 146.7 212.7 C151.7 222.9 154.3 232.7 157.4 243.8 C160.6 254.9 164.1 267.5 165.6 279.3 C167.1 291.2 169.5 304.1 166.4 315.0 C163.4 325.8 154.7 335.4 147.0 344.3 C139.3 353.1 124.6 363.9 120.2 367.9" fill="none" stroke="#9b5a30" stroke-width="2.7" stroke-linecap="round" opacity="0.32" filter="url(#b09)"/>
<path d="M122.3 79.9 C120.9 85.8 114.6 103.6 113.8 115.2 C113.1 126.8 115.3 138.4 117.8 149.6 C120.4 160.9 124.2 172.4 129.3 182.8 C134.5 193.2 143.4 201.3 148.6 211.8 C153.8 222.3 157.7 234.3 160.5 245.6 C163.4 257.0 164.3 268.1 165.7 279.9 C167.2 291.8 172.1 306.1 169.3 316.8 C166.4 327.4 152.0 339.5 148.5 344.0" fill="none" stroke="#c98950" stroke-width="2.6" stroke-linecap="round" opacity="0.35" filter="url(#b09)"/>
<path d="M123.2 80.6 C121.6 86.5 114.7 104.7 113.8 116.2 C112.9 127.6 115.0 138.0 117.7 149.3 C120.5 160.6 125.1 173.2 130.2 183.8 C135.3 194.5 143.2 203.0 148.3 213.1 C153.4 223.3 157.4 233.5 160.9 244.8 C164.3 256.1 167.4 269.2 168.9 281.0 C170.4 292.8 169.9 309.9 170.0 315.7" fill="none" stroke="#9b5a30" stroke-width="1.7" stroke-linecap="round" opacity="0.32" filter="url(#b09)"/>
<path d="M114.9 117.0 C115.6 122.9 116.1 141.1 119.0 152.2 C121.9 163.3 127.1 173.4 132.4 183.5 C137.7 193.7 145.4 202.6 150.7 213.1 C155.9 223.5 160.4 234.8 164.0 246.4 C167.5 258.0 170.7 271.0 172.0 282.7 C173.2 294.5 174.6 306.2 171.5 316.6 C168.3 327.1 156.2 340.4 153.1 345.2" fill="none" stroke="#b5652f" stroke-width="2.2" stroke-linecap="round" opacity="0.52" filter="url(#b09)"/>
<path d="M123.4 82.5 C122.3 88.2 117.1 105.5 116.6 117.1 C116.2 128.6 117.7 140.5 120.4 151.9 C123.1 163.3 127.7 175.3 133.0 185.6 C138.2 195.9 146.2 203.5 152.0 213.7 C157.8 223.8 164.1 235.2 167.7 246.5 C171.3 257.8 172.5 275.7 173.5 281.5" fill="none" stroke="#ddb184" stroke-width="2.7" stroke-linecap="round" opacity="0.4" filter="url(#b09)"/>
<path d="M168.3 246.8 C169.4 252.7 173.7 270.1 174.8 281.9 C176.0 293.7 178.3 306.7 175.1 317.6 C171.8 328.6 163.4 339.0 155.5 347.6 C147.6 356.1 136.7 361.5 127.6 368.9 C118.4 376.3 108.9 383.8 100.6 392.2 C92.3 400.5 81.7 414.6 77.9 419.1" fill="none" stroke="#b06c3c" stroke-width="2.8" stroke-linecap="round" opacity="0.39" filter="url(#b09)"/>
<path d="M117.3 117.4 C117.9 123.5 117.7 142.3 120.6 153.9 C123.4 165.5 128.7 176.7 134.4 186.9 C140.1 197.2 149.0 205.4 154.9 215.4 C160.8 225.4 166.4 235.8 169.9 246.9 C173.3 257.9 174.4 269.9 175.4 282.0 C176.4 294.1 179.2 308.6 176.1 319.6 C172.9 330.6 164.8 339.7 156.7 348.1 C148.7 356.5 132.6 366.2 127.7 369.9" fill="none" stroke="#b5652f" stroke-width="3.2" stroke-linecap="round" opacity="0.4" filter="url(#b09)"/>
<path d="M135.4 186.8 C139.1 191.7 151.4 206.1 157.6 216.1 C163.8 226.1 169.3 235.5 172.7 246.7 C176.1 257.9 177.0 271.4 178.2 283.5 C179.4 295.5 183.0 308.5 180.0 319.2 C176.9 329.8 168.4 339.0 160.0 347.4 C151.7 355.8 139.3 362.1 129.9 369.6 C120.5 377.1 111.8 384.4 103.4 392.6 C94.9 400.7 83.1 414.1 79.1 418.3" fill="none" stroke="#d39a5e" stroke-width="1.9" stroke-linecap="round" opacity="0.48" filter="url(#b09)"/>
<path d="M122.3 155.8 C125.0 161.2 132.4 178.1 138.5 188.4 C144.6 198.6 153.1 207.2 158.9 217.3 C164.6 227.5 169.4 237.8 173.0 249.1 C176.6 260.4 178.8 273.3 180.2 285.1 C181.7 297.0 184.8 309.4 181.7 320.3 C178.6 331.1 169.8 341.9 161.6 350.1 C153.4 358.3 142.2 362.2 132.7 369.5 C123.1 376.8 113.1 385.8 104.2 394.1 C95.2 402.4 83.4 415.3 79.2 419.5" fill="none" stroke="#c98950" stroke-width="2.2" stroke-linecap="round" opacity="0.32" filter="url(#b09)"/>
<path d="M118.9 121.9 C119.8 127.8 120.8 146.1 124.1 157.1 C127.4 168.1 132.6 178.0 138.8 187.9 C145.0 197.9 155.0 206.5 161.3 216.9 C167.5 227.3 173.1 238.7 176.4 250.1 C179.8 261.5 180.5 273.6 181.4 285.5 C182.4 297.4 184.9 310.7 182.1 321.3 C179.2 331.9 172.1 340.6 164.2 349.1 C156.2 357.6 144.0 364.8 134.4 372.3 C124.8 379.7 115.7 386.3 106.6 393.8 C97.6 401.3 84.5 413.4 80.1 417.3" fill="none" stroke="#c98950" stroke-width="2.9" stroke-linecap="round" opacity="0.33" filter="url(#b09)"/>
<path d="M124.4 156.6 C127.0 162.2 134.0 179.8 140.2 190.1 C146.3 200.3 154.8 208.2 161.2 218.0 C167.5 227.8 174.3 237.8 178.1 248.9 C181.9 259.9 183.1 272.1 184.1 284.4 C185.2 296.6 187.5 311.5 184.4 322.3 C181.2 333.2 173.2 341.0 165.2 349.3 C157.3 357.7 146.4 365.0 136.7 372.3 C127.0 379.6 112.0 389.7 107.1 393.1" fill="none" stroke="#d39a5e" stroke-width="2.2" stroke-linecap="round" opacity="0.33" filter="url(#b09)"/>
<path d="M139.5 190.1 C143.6 194.7 157.6 208.0 164.3 217.9 C171.0 227.8 176.2 238.2 179.8 249.4 C183.4 260.6 184.6 272.9 185.7 285.1 C186.8 297.3 189.4 311.7 186.2 322.8 C182.9 333.8 174.3 343.1 166.0 351.2 C157.7 359.3 146.0 364.4 136.2 371.4 C126.4 378.5 116.2 385.5 107.2 393.4 C98.2 401.3 86.3 414.6 82.2 418.8" fill="none" stroke="#9b5a30" stroke-width="1.9" stroke-linecap="round" opacity="0.31" filter="url(#b09)"/>
<path d="M166.1 219.3 C168.7 224.4 177.7 238.6 181.4 249.7 C185.1 260.9 187.4 273.8 188.5 286.0 C189.6 298.1 191.3 311.6 187.9 322.6 C184.5 333.6 176.5 344.0 168.2 352.1 C159.9 360.2 147.9 364.2 138.2 371.2 C128.5 378.3 119.2 386.6 110.1 394.5 C101.1 402.4 88.2 414.6 83.8 418.7" fill="none" stroke="#b06c3c" stroke-width="2.4" stroke-linecap="round" opacity="0.48" filter="url(#b09)"/>
<path d="M127.8 89.4 C126.4 95.2 120.2 112.1 119.8 124.0 C119.5 135.9 121.7 149.0 125.6 160.6 C129.5 172.1 136.2 183.4 143.2 193.2 C150.3 203.0 161.3 209.7 168.0 219.3 C174.7 228.9 179.9 239.5 183.3 250.8 C186.8 262.1 187.5 275.2 188.8 287.3 C190.1 299.4 194.3 312.5 191.1 323.2 C188.0 333.8 178.3 342.6 169.7 351.0 C161.1 359.3 149.2 366.2 139.6 373.3 C130.1 380.4 121.9 385.7 112.4 393.4 C102.9 401.0 87.8 414.9 82.8 419.2" fill="none" stroke="#e3c6a2" stroke-width="2.2" stroke-linecap="round" opacity="0.41" filter="url(#b09)"/>
<path d="M120.1 124.8 C121.2 131.0 122.7 150.5 126.9 161.9 C131.1 173.4 138.1 183.6 145.2 193.5 C152.2 203.3 162.6 211.1 169.4 220.9 C176.1 230.7 182.1 241.0 185.5 252.2 C189.0 263.3 189.0 276.0 190.1 287.8 C191.1 299.6 194.8 312.1 191.8 323.0 C188.7 334.0 180.2 345.0 171.9 353.4 C163.5 361.8 151.7 366.6 141.7 373.4 C131.7 380.2 121.2 386.9 111.8 394.2 C102.5 401.4 89.9 413.1 85.5 416.9" fill="none" stroke="#b06c3c" stroke-width="3.0" stroke-linecap="round" opacity="0.34" filter="url(#b09)"/>
<path d="M108.9 322.6 C105.8 326.6 96.1 338.8 90.2 346.5 C84.3 354.2 78.5 361.1 73.4 369.1 C68.3 377.0 62.9 385.7 59.5 394.2 C56.1 402.7 54.1 415.9 53.1 420.2" fill="none" stroke="#ead6bd" stroke-width="1.9" stroke-linecap="round" opacity="0.51" filter="url(#b09)"/>
<path d="M122.0 271.0 C122.8 275.6 128.4 289.9 126.8 298.5 C125.1 307.2 117.7 315.1 112.2 323.2 C106.8 331.3 99.8 339.3 93.9 347.0 C88.0 354.7 82.1 361.9 77.0 369.5 C71.8 377.1 66.7 384.0 63.1 392.7 C59.5 401.3 56.6 416.6 55.4 421.3" fill="none" stroke="#d8b38a" stroke-width="1.9" stroke-linecap="round" opacity="0.69" filter="url(#b09)"/>
<path d="M114.7 323.8 C111.4 327.7 100.9 339.6 95.1 347.2 C89.3 354.7 85.2 361.6 79.8 369.3 C74.5 376.9 67.0 384.5 63.1 392.9 C59.2 401.3 57.4 415.2 56.2 419.7" fill="none" stroke="#e3c6a2" stroke-width="2.3" stroke-linecap="round" opacity="0.67" filter="url(#b09)"/>
<path d="M119.1 325.0 C115.7 328.8 105.1 340.4 99.0 348.0 C92.9 355.6 88.2 362.7 82.5 370.4 C76.9 378.1 69.6 385.8 65.1 394.2 C60.7 402.6 57.3 416.3 55.7 420.7" fill="none" stroke="#ead6bd" stroke-width="1.5" stroke-linecap="round" opacity="0.5" filter="url(#b09)"/>
<path d="M121.6 327.8 C118.4 331.3 108.6 341.3 102.4 348.5 C96.2 355.7 89.9 363.5 84.3 371.0 C78.7 378.4 72.8 385.1 68.7 393.4 C64.5 401.7 61.0 416.0 59.4 420.5" fill="none" stroke="#d8b38a" stroke-width="1.2" stroke-linecap="round" opacity="0.54" filter="url(#b09)"/>
<path d="M135.2 274.4 C135.9 278.9 141.1 292.3 139.3 301.3 C137.5 310.4 130.0 320.7 124.5 328.6 C118.9 336.5 112.2 341.8 106.0 348.7 C99.7 355.6 90.1 366.5 86.9 370.1" fill="none" stroke="#ead6bd" stroke-width="1.6" stroke-linecap="round" opacity="0.48" filter="url(#b09)"/>
<path d="M130.0 330.3 C126.6 333.5 116.0 342.9 109.4 349.7 C102.9 356.5 96.7 363.3 90.7 371.0 C84.6 378.6 78.0 387.4 73.2 395.6 C68.4 403.9 63.9 416.3 62.0 420.4" fill="none" stroke="#d8b38a" stroke-width="1.5" stroke-linecap="round" opacity="0.58" filter="url(#b09)"/>
<path d="M131.4 330.1 C128.3 333.7 119.1 344.5 112.8 351.5 C106.4 358.5 99.5 365.2 93.3 372.3 C87.2 379.5 80.9 386.5 75.7 394.6 C70.5 402.6 64.5 416.4 62.3 420.7" fill="none" stroke="#e3c6a2" stroke-width="1.6" stroke-linecap="round" opacity="0.64" filter="url(#b09)"/>
<path d="M146.9 276.2 C147.4 281.0 151.2 296.3 149.5 305.3 C147.9 314.3 142.7 322.6 137.1 330.3 C131.5 337.9 119.6 347.8 116.1 351.3" fill="none" stroke="#d8b38a" stroke-width="1.7" stroke-linecap="round" opacity="0.55" filter="url(#b09)"/>
<path d="M152.4 306.5 C150.4 310.9 145.7 324.7 140.3 332.5 C134.9 340.4 127.1 346.9 120.1 353.6 C113.1 360.3 104.7 365.5 98.3 372.5 C91.9 379.6 87.2 387.8 81.8 395.6 C76.4 403.4 68.6 415.4 66.0 419.3" fill="none" stroke="#d8b38a" stroke-width="2.1" stroke-linecap="round" opacity="0.68" filter="url(#b09)"/>
<path d="M153.5 276.5 C154.2 281.6 159.0 297.4 157.7 306.9 C156.3 316.5 151.1 326.2 145.2 333.7 C139.3 341.2 129.7 345.5 122.4 352.2 C115.0 358.8 104.7 370.1 101.1 373.7" fill="none" stroke="#ead6bd" stroke-width="1.9" stroke-linecap="round" opacity="0.47" filter="url(#b09)"/>
<path d="M159.0 306.9 C157.2 311.6 153.5 327.2 148.1 335.3 C142.7 343.3 133.7 348.6 126.4 355.1 C119.1 361.5 107.9 370.8 104.2 373.9" fill="none" stroke="#d8b38a" stroke-width="2.2" stroke-linecap="round" opacity="0.47" filter="url(#b09)"/>
<path d="M160.7 279.7 C161.0 284.6 163.9 300.3 162.4 309.3 C160.9 318.4 157.5 326.5 151.8 334.1 C146.2 341.7 135.8 348.3 128.3 355.1 C120.8 361.8 113.5 367.6 106.8 374.6 C100.0 381.6 91.0 393.2 87.8 396.9" fill="none" stroke="#e3c6a2" stroke-width="1.6" stroke-linecap="round" opacity="0.54" filter="url(#b09)"/>
<path d="M164.4 310.1 C162.6 314.3 159.3 327.7 153.9 335.4 C148.4 343.0 138.9 349.6 131.5 356.1 C124.1 362.5 116.4 367.3 109.3 374.1 C102.3 380.9 95.6 389.0 89.4 396.6 C83.2 404.2 74.9 415.8 72.0 419.7" fill="none" stroke="#c9935e" stroke-width="2.3" stroke-linecap="round" opacity="0.48" filter="url(#b09)"/>
<path d="M157.4 336.1 C153.5 339.2 142.0 348.5 134.1 354.9 C126.3 361.4 117.7 367.8 110.3 374.7 C102.9 381.7 95.8 389.2 89.6 396.4 C83.5 403.7 75.9 414.7 73.1 418.3" fill="none" stroke="#ead6bd" stroke-width="2.3" stroke-linecap="round" opacity="0.67" filter="url(#b09)"/>
<path d="M171.4 280.8 C171.6 285.9 174.3 301.6 172.7 311.3 C171.2 321.1 167.7 331.5 161.9 339.3 C156.2 347.1 145.6 352.0 138.1 358.2 C130.6 364.4 124.4 369.7 117.0 376.2 C109.6 382.8 97.7 394.0 93.8 397.5" fill="none" stroke="#d8b38a" stroke-width="2.0" stroke-linecap="round" opacity="0.54" filter="url(#b09)"/>
<path d="M174.4 311.6 C172.8 315.9 170.6 330.0 164.7 337.8 C158.8 345.5 147.2 351.7 139.2 358.1 C131.2 364.5 124.1 370.0 116.8 376.4 C109.4 382.9 102.0 389.5 95.2 396.8 C88.3 404.0 79.0 415.9 75.7 419.7" fill="none" stroke="#ead6bd" stroke-width="1.8" stroke-linecap="round" opacity="0.68" filter="url(#b09)"/>
<path d="M167.6 341.2 C163.7 344.1 151.9 352.1 144.3 358.3 C136.6 364.5 129.3 372.3 121.6 378.6 C113.9 384.9 105.2 389.4 98.1 396.2 C91.0 403.0 82.3 415.6 79.1 419.4" fill="none" stroke="#d8b38a" stroke-width="1.4" stroke-linecap="round" opacity="0.67" filter="url(#b09)"/>
<path d="M171.8 342.5 C167.8 345.5 155.8 354.4 147.8 360.2 C139.7 366.0 131.3 371.3 123.6 377.3 C116.0 383.4 109.2 389.5 101.9 396.5 C94.6 403.6 83.5 415.6 79.8 419.4" fill="none" stroke="#e3c6a2" stroke-width="1.9" stroke-linecap="round" opacity="0.5" filter="url(#b09)"/>
<path d="M182.4 282.4 C183.0 287.7 186.9 303.9 185.8 314.0 C184.7 324.1 181.9 334.9 175.9 342.8 C169.9 350.6 158.1 355.3 149.7 361.1 C141.3 366.9 133.1 371.3 125.5 377.6 C117.9 383.9 107.7 395.3 104.2 398.8" fill="none" stroke="#c9935e" stroke-width="1.8" stroke-linecap="round" opacity="0.48" filter="url(#b09)"/>
<path d="M187.8 313.8 C186.4 318.8 184.9 336.2 179.2 343.9 C173.6 351.7 162.4 354.5 153.8 360.2 C145.3 366.0 136.3 372.3 127.9 378.4 C119.6 384.5 111.4 390.2 103.8 396.8 C96.2 403.4 86.0 414.5 82.4 418.0" fill="none" stroke="#e3c6a2" stroke-width="1.6" stroke-linecap="round" opacity="0.46" filter="url(#b09)"/>
<path d="M191.5 316.5 C190.0 321.0 188.3 336.0 182.5 343.5 C176.6 351.1 165.0 355.9 156.5 361.7 C148.0 367.6 139.5 372.4 131.4 378.7 C123.3 384.9 115.7 392.3 107.9 399.0 C100.1 405.8 88.6 415.7 84.8 419.0" fill="none" stroke="#c9935e" stroke-width="2.3" stroke-linecap="round" opacity="0.51" filter="url(#b09)"/>
<path d="M120.0 330.0 C116.7 334.3 104.7 347.0 100.0 356.0 C95.3 365.0 92.7 375.0 92.0 384.0 C91.3 393.0 95.3 405.7 96.0 410.0" fill="none" stroke="#5e3a2c" stroke-width="1.3" stroke-linecap="round" opacity="0.35" filter="url(#b09)"/>
</g>
<path d="M127.7 282.7 C124.7 284.2 115.3 288.1 109.9 291.4 C104.4 294.8 100.5 300.1 95.0 302.7 C89.6 305.3 83.4 304.9 77.3 307.0 C71.2 309.2 64.6 312.6 58.5 315.4 C52.3 318.2 43.4 322.4 40.4 323.8" fill="none" stroke="#c08a5c" stroke-width="2.3" stroke-linecap="round" opacity="0.62" filter="url(#b1)"/>
<path d="M93.5 301.5 C91.0 302.9 83.9 306.9 78.1 309.9 C72.4 312.9 65.5 316.7 59.0 319.6 C52.4 322.5 44.7 324.3 38.8 327.2 C33.0 330.0 26.6 335.1 24.1 336.7" fill="none" stroke="#c08a5c" stroke-width="2.3" stroke-linecap="round" opacity="0.75" filter="url(#b1)"/>
<path d="M94.7 305.1 C91.7 306.6 83.0 311.7 76.9 314.1 C70.8 316.4 63.7 316.9 58.0 319.2 C52.3 321.6 48.1 325.0 42.6 328.3 C37.1 331.6 27.9 337.3 25.0 339.1" fill="none" stroke="#d8b38a" stroke-width="2.0" stroke-linecap="round" opacity="0.63" filter="url(#b1)"/>
<path d="M94.6 308.0 C91.8 309.1 83.3 312.3 77.6 314.7 C72.0 317.1 66.6 319.8 60.6 322.6 C54.6 325.4 47.6 328.3 41.6 331.5 C35.5 334.7 27.0 340.1 24.1 341.9" fill="none" stroke="#ead6bd" stroke-width="1.7" stroke-linecap="round" opacity="0.74" filter="url(#b1)"/>
<path d="M95.0 306.6 C91.9 308.3 82.8 314.2 76.7 317.0 C70.7 319.8 64.1 321.0 58.6 323.6 C53.1 326.1 49.3 329.3 43.8 332.3 C38.3 335.4 28.6 340.4 25.6 342.0" fill="none" stroke="#c9a173" stroke-width="2.4" stroke-linecap="round" opacity="0.53" filter="url(#b1)"/>
<path d="M131.6 290.0 C128.7 292.0 119.9 299.1 114.1 302.4 C108.2 305.6 102.9 306.6 96.7 309.5 C90.4 312.3 82.2 316.6 76.6 319.4 C70.9 322.2 68.2 324.0 62.8 326.5 C57.4 328.9 47.1 333.0 44.0 334.3" fill="none" stroke="#c08a5c" stroke-width="2.8" stroke-linecap="round" opacity="0.63" filter="url(#b1)"/>
<path d="M114.5 302.6 C111.5 304.2 102.2 309.3 96.6 312.6 C91.0 315.9 86.9 319.4 80.8 322.4 C74.7 325.3 66.1 327.7 60.0 330.4 C54.0 333.1 49.6 335.7 44.6 338.7 C39.6 341.8 32.3 347.2 29.9 348.9" fill="none" stroke="#e3c6a2" stroke-width="2.2" stroke-linecap="round" opacity="0.55" filter="url(#b1)"/>
<path d="M98.7 313.7 C95.4 315.3 85.2 320.2 79.2 323.1 C73.1 326.0 67.9 327.7 62.5 330.9 C57.2 334.0 52.8 338.3 47.0 341.9 C41.2 345.5 30.9 350.5 27.7 352.2" fill="none" stroke="#e3c6a2" stroke-width="1.5" stroke-linecap="round" opacity="0.74" filter="url(#b1)"/>
<path d="M131.0 294.3 C128.3 296.3 120.6 302.1 115.1 306.1 C109.6 310.1 103.3 314.8 97.8 318.3 C92.2 321.8 87.7 324.4 81.7 327.0 C75.7 329.7 67.8 331.6 61.9 334.1 C56.1 336.6 49.0 340.8 46.5 342.1" fill="none" stroke="#e1c29e" stroke-width="2.7" stroke-linecap="round" opacity="0.6" filter="url(#b1)"/>
<path d="M132.8 298.0 C129.7 299.4 119.8 303.4 113.9 306.7 C107.9 309.9 102.8 314.2 97.3 317.4 C91.8 320.7 86.8 323.3 81.0 326.3 C75.2 329.3 68.0 331.7 62.4 335.3 C56.9 338.8 52.7 343.9 47.6 347.7 C42.5 351.5 34.6 356.2 31.9 357.9" fill="none" stroke="#e1c29e" stroke-width="1.8" stroke-linecap="round" opacity="0.82" filter="url(#b1)"/>
<path d="M115.2 309.2 C112.4 310.8 104.3 315.5 98.6 319.0 C92.8 322.6 86.4 327.1 80.6 330.6 C74.8 334.1 69.1 336.8 63.9 339.9 C58.6 343.0 54.4 345.5 49.1 349.2 C43.9 352.9 35.1 359.8 32.3 361.9" fill="none" stroke="#d8b38a" stroke-width="1.8" stroke-linecap="round" opacity="0.8" filter="url(#b1)"/>
<path d="M96.7 321.8 C94.4 323.1 88.3 326.2 82.8 329.4 C77.4 332.7 69.6 337.7 64.0 341.4 C58.5 345.2 54.6 348.5 49.5 351.7 C44.3 354.9 35.9 359.2 33.2 360.6" fill="none" stroke="#ead6bd" stroke-width="1.6" stroke-linecap="round" opacity="0.53" filter="url(#b1)"/>
<path d="M134.3 302.0 C131.3 303.7 122.1 308.5 116.6 312.2 C111.0 316.0 106.8 321.2 101.0 324.5 C95.1 327.8 87.1 329.2 81.4 332.2 C75.7 335.1 72.1 338.7 67.0 342.3 C61.9 345.8 56.6 349.5 51.1 353.5 C45.5 357.6 36.5 364.4 33.6 366.6" fill="none" stroke="#dcb992" stroke-width="2.0" stroke-linecap="round" opacity="0.59" filter="url(#b1)"/>
<path d="M116.9 313.5 C114.4 315.3 107.5 321.0 101.6 324.5 C95.8 328.1 87.6 331.1 81.9 334.8 C76.2 338.5 72.9 343.4 67.4 346.7 C62.0 350.1 52.2 353.6 49.2 355.0" fill="none" stroke="#e1c29e" stroke-width="1.6" stroke-linecap="round" opacity="0.82" filter="url(#b1)"/>
<path d="M135.0 305.7 C131.8 307.5 121.6 312.5 116.0 316.2 C110.4 319.9 106.4 324.3 101.4 327.7 C96.3 331.1 91.4 333.0 85.8 336.8 C80.2 340.6 73.3 346.7 67.7 350.5 C62.0 354.4 57.3 356.6 51.9 360.0 C46.5 363.4 37.9 369.1 35.2 370.9" fill="none" stroke="#c08a5c" stroke-width="3.2" stroke-linecap="round" opacity="0.7" filter="url(#b1)"/>
<path d="M99.2 327.7 C96.5 329.6 88.2 335.1 83.0 338.7 C77.8 342.4 73.3 346.0 68.0 349.4 C62.7 352.9 56.2 355.2 51.3 359.4 C46.4 363.7 40.7 372.3 38.6 374.8" fill="none" stroke="#c9a173" stroke-width="2.5" stroke-linecap="round" opacity="0.78" filter="url(#b1)"/>
<path d="M101.7 329.3 C99.0 331.3 90.9 337.3 85.4 341.3 C79.8 345.3 74.1 350.0 68.4 353.6 C62.8 357.2 56.2 359.0 51.5 362.8 C46.8 366.6 42.1 374.1 40.2 376.4" fill="none" stroke="#e3c6a2" stroke-width="2.0" stroke-linecap="round" opacity="0.59" filter="url(#b1)"/>
<path d="M100.7 330.9 C98.2 332.6 91.1 337.1 85.7 341.3 C80.3 345.5 73.9 352.1 68.4 356.2 C62.9 360.3 57.1 361.9 52.5 365.9 C48.0 369.9 43.0 378.0 41.0 380.4" fill="none" stroke="#dcb992" stroke-width="3.2" stroke-linecap="round" opacity="0.51" filter="url(#b1)"/>
<path d="M118.7 324.2 C115.8 326.1 106.7 332.4 101.1 336.0 C95.5 339.5 90.4 342.0 85.0 345.7 C79.6 349.3 73.7 353.9 68.7 357.8 C63.6 361.7 59.2 365.1 54.8 369.1 C50.4 373.1 44.4 379.6 42.3 381.7" fill="none" stroke="#ead6bd" stroke-width="2.9" stroke-linecap="round" opacity="0.68" filter="url(#b1)"/>
<path d="M101.5 337.7 C98.8 339.4 90.9 343.7 85.6 347.7 C80.3 351.6 74.5 357.4 69.5 361.3 C64.5 365.2 60.6 366.6 55.9 370.9 C51.1 375.3 43.4 384.9 40.9 387.6" fill="none" stroke="#c08a5c" stroke-width="1.9" stroke-linecap="round" opacity="0.76" filter="url(#b1)"/>
<path d="M117.7 325.2 C115.1 327.2 106.7 333.0 101.9 337.6 C97.2 342.1 94.1 348.2 89.3 352.3 C84.5 356.4 78.5 358.4 73.0 362.3 C67.4 366.1 61.0 371.1 56.2 375.6 C51.4 380.1 46.2 387.1 44.2 389.4" fill="none" stroke="#c9a173" stroke-width="1.5" stroke-linecap="round" opacity="0.63" filter="url(#b1)"/>
<path d="M136.1 317.5 C133.4 319.4 125.2 325.0 119.8 328.9 C114.3 332.8 108.7 337.1 103.4 340.8 C98.1 344.4 92.9 347.2 87.9 351.0 C82.8 354.7 75.6 361.3 73.1 363.4" fill="none" stroke="#c9a173" stroke-width="3.0" stroke-linecap="round" opacity="0.8" filter="url(#b1)"/>
<path d="M105.7 342.5 C102.7 344.6 93.1 351.4 87.4 355.2 C81.8 358.9 76.9 361.3 71.9 365.0 C66.9 368.8 62.1 372.8 57.4 377.7 C52.8 382.7 46.4 391.9 44.2 394.8" fill="none" stroke="#e3c6a2" stroke-width="2.7" stroke-linecap="round" opacity="0.64" filter="url(#b1)"/>
<path d="M103.3 344.3 C101.2 346.5 95.0 353.0 90.3 357.1 C85.7 361.1 80.9 364.8 75.5 368.9 C70.1 372.9 62.8 376.2 57.9 381.2 C52.9 386.1 47.9 395.6 45.9 398.5" fill="none" stroke="#e3c6a2" stroke-width="2.6" stroke-linecap="round" opacity="0.66" filter="url(#b1)"/>
<path d="M104.0 343.4 C101.4 346.0 93.6 354.1 88.7 358.8 C83.7 363.5 78.9 367.6 74.2 371.6 C69.5 375.5 65.0 378.2 60.5 382.4 C56.0 386.6 49.3 394.5 47.0 397.0" fill="none" stroke="#e1c29e" stroke-width="2.1" stroke-linecap="round" opacity="0.55" filter="url(#b1)"/>
<path d="M136.3 322.7 C134.0 324.9 127.8 332.0 122.5 335.9 C117.2 339.7 109.6 341.7 104.4 345.9 C99.3 350.1 96.4 356.2 91.6 360.9 C86.8 365.7 78.1 372.1 75.4 374.3" fill="none" stroke="#ead6bd" stroke-width="3.0" stroke-linecap="round" opacity="0.59" filter="url(#b1)"/>
<path d="M122.9 336.0 C119.9 338.4 110.3 346.0 105.2 350.5 C100.2 354.9 97.5 358.6 92.3 362.8 C87.2 367.1 79.4 371.4 74.1 376.1 C68.9 380.7 65.1 386.0 60.7 390.9 C56.3 395.7 49.9 402.7 47.7 405.1" fill="none" stroke="#ead6bd" stroke-width="3.0" stroke-linecap="round" opacity="0.52" filter="url(#b1)"/>
<path d="M137.7 325.9 C134.7 328.1 125.0 335.6 120.0 339.5 C115.0 343.5 112.7 345.4 107.9 349.5 C103.0 353.6 96.2 359.4 91.0 364.0 C85.8 368.6 81.5 372.4 76.8 377.0 C72.0 381.7 64.8 389.5 62.4 392.0" fill="none" stroke="#e1c29e" stroke-width="1.7" stroke-linecap="round" opacity="0.71" filter="url(#b1)"/>
<path d="M105.9 353.8 C103.4 356.0 96.0 362.0 91.2 366.8 C86.4 371.6 81.7 377.7 77.0 382.5 C72.4 387.3 67.6 391.2 63.3 395.8 C59.0 400.4 53.2 407.7 51.2 410.0" fill="none" stroke="#c9a173" stroke-width="3.2" stroke-linecap="round" opacity="0.61" filter="url(#b1)"/>
<path d="M122.9 343.2 C120.1 345.3 111.4 352.0 106.1 356.2 C100.8 360.4 95.6 363.7 91.0 368.4 C86.4 373.0 82.6 379.2 78.3 384.1 C74.0 389.0 69.5 392.8 65.3 398.0 C61.2 403.1 55.5 412.2 53.6 415.0" fill="none" stroke="#e1c29e" stroke-width="2.0" stroke-linecap="round" opacity="0.83" filter="url(#b1)"/>
<path d="M137.9 328.9 C135.2 331.0 126.6 337.0 121.4 341.4 C116.3 345.9 111.5 350.8 107.1 355.4 C102.7 360.0 99.9 364.1 94.9 369.2 C89.9 374.4 82.5 381.0 77.4 386.1 C72.2 391.3 66.1 397.9 63.9 400.2" fill="none" stroke="#c08a5c" stroke-width="2.5" stroke-linecap="round" opacity="0.73" filter="url(#b1)"/>
<path d="M123.2 345.8 C120.6 348.1 112.5 355.5 107.8 359.9 C103.2 364.2 100.1 367.4 95.3 371.8 C90.6 376.2 84.4 380.8 79.4 386.0 C74.4 391.3 69.9 397.9 65.5 403.5 C61.1 409.2 55.0 417.2 52.9 419.9" fill="none" stroke="#d8b38a" stroke-width="3.2" stroke-linecap="round" opacity="0.53" filter="url(#b1)"/>
<path d="M124.8 348.0 C121.9 349.8 112.2 354.1 107.3 358.8 C102.4 363.5 100.1 370.8 95.3 375.9 C90.5 381.0 83.3 384.5 78.7 389.5 C74.0 394.5 71.2 400.6 67.4 405.9 C63.6 411.3 57.8 418.8 55.8 421.4" fill="none" stroke="#c08a5c" stroke-width="1.8" stroke-linecap="round" opacity="0.81" filter="url(#b1)"/>
<path d="M108.4 360.1 C106.1 362.9 99.0 371.5 94.6 376.9 C90.2 382.4 86.8 387.7 82.3 392.7 C77.7 397.7 71.5 401.7 67.1 406.8 C62.7 411.9 57.6 420.7 55.7 423.5" fill="none" stroke="#c08a5c" stroke-width="1.7" stroke-linecap="round" opacity="0.58" filter="url(#b1)"/>
<path d="M28.0 326.0 C26.3 330.0 21.0 341.7 18.0 350.0 C15.0 358.3 12.3 368.0 10.0 376.0 C7.7 384.0 5.0 394.3 4.0 398.0" fill="none" stroke="#dcc3a3" stroke-width="1.8" stroke-linecap="round" opacity="0.7" filter="url(#b1)"/>
<path d="M34.0 322.0 C32.7 327.0 28.3 341.7 26.0 352.0 C23.7 362.3 21.7 374.0 20.0 384.0 C18.3 394.0 16.7 407.3 16.0 412.0" fill="none" stroke="#e6cdaf" stroke-width="1.5" stroke-linecap="round" opacity="0.65" filter="url(#b1)"/>
<path d="M40.0 300.0 C38.3 303.7 33.0 314.5 30.0 322.0 C27.0 329.5 23.3 341.2 22.0 345.0" fill="none" stroke="#c9a173" stroke-width="1.6" stroke-linecap="round" opacity="0.6" filter="url(#b1)"/>
<path d="M60.0 330.0 C57.3 335.0 48.3 349.7 44.0 360.0 C39.7 370.3 36.3 382.0 34.0 392.0 C31.7 402.0 30.7 415.3 30.0 420.0" fill="none" stroke="#ead6bd" stroke-width="1.4" stroke-linecap="round" opacity="0.6" filter="url(#b1)"/>
<path d="M322.0 290.0 C324.7 293.3 333.0 303.3 338.0 310.0 C343.0 316.7 348.3 324.7 352.0 330.0 C355.7 335.3 358.7 340.0 360.0 342.0" fill="none" stroke="#b98956" stroke-width="1.4" stroke-linecap="round" opacity="0.7" filter="url(#b1)"/>
<path d="M300.0 298.0 C303.0 300.3 312.0 306.7 318.0 312.0 C324.0 317.3 333.0 327.0 336.0 330.0" fill="none" stroke="#c39660" stroke-width="1.2" stroke-linecap="round" opacity="0.6" filter="url(#b1)"/>
<path d="M338.0 296.0 C340.3 297.0 348.0 301.3 352.0 302.0 C356.0 302.7 360.3 300.3 362.0 300.0" fill="none" stroke="#b98956" stroke-width="1.2" stroke-linecap="round" opacity="0.6" filter="url(#b1)"/>
</g>
</g></svg>
<div class="t" style="left:48.1px;top:13.2px;font-size:27.33px;color:#2b2b2b;transform:scaleX(0.9589);transform-origin:0 0;">MyPrivate Family Office [Build 80287]</div>
<div class="t" style="left:148.3px;top:103.8px;font-size:27.03px;color:#9c9c9c;letter-spacing:0.03px;">Add financing</div>
<div class="t" style="left:146.4px;top:160.4px;font-size:27.03px;color:#3f3f3f;transform:scaleX(0.9654);transform-origin:0 0;">Financing received</div>
<div class="t" style="left:230.2px;top:217.1px;font-size:27.03px;color:#3f3f3f;letter-spacing:-0.30px;">Ludovic</div>
<div class="t" style="left:146.3px;top:273.7px;font-size:27.03px;color:#3f3f3f;letter-spacing:-0.27px;">Financing granted</div>
<div class="t" style="left:231.4px;top:330.3px;font-size:27.03px;color:#ffffff;font-weight:700;transform:scaleX(0.9481);transform-origin:0 0;">Jennifer</div>
<div class="t" style="left:229.6px;top:387.0px;font-size:27.03px;color:#3f3f3f;transform:scaleX(0.9193);transform-origin:0 0;">Frank</div>
<div class="t" style="left:231.4px;top:443.6px;font-size:27.03px;color:#3f3f3f;transform:scaleX(0.8211);transform-origin:0 0;">Jana</div>
<div class="t" style="left:146.7px;top:500.2px;font-size:27.03px;color:#9c9c9c;letter-spacing:-0.40px;">Run report</div>
<div class="t" style="left:146.7px;top:556.9px;font-size:27.03px;color:#9c9c9c;letter-spacing:-0.25px;">Export data</div>
<div class="t" style="left:146.7px;top:613.5px;font-size:27.03px;color:#9c9c9c;letter-spacing:-0.06px;">Export data &amp; documents</div>
<div class="t" style="left:146.8px;top:670.1px;font-size:27.03px;color:#9c9c9c;transform:scaleX(0.9614);transform-origin:0 0;">Insights</div>
<div class="t" style="left:147.7px;top:726.7px;font-size:27.03px;color:#9c9c9c;transform:scaleX(0.9535);transform-origin:0 0;">Show archive</div>
<div class="t" style="left:663.0px;top:99.1px;font-size:43.6px;color:#1e1e1e;letter-spacing:0.13px;">MyPrivate Insights</div>
<div class="t" style="left:3983.1px;top:98.3px;font-size:45.49px;color:#ee7b22;transform:scaleX(1.0447);transform-origin:0 0;">Financing</div>
<div class="t" style="left:4449.0px;top:113.1px;font-size:29.94px;color:#8c8c8c;transform:scaleX(0.9512);transform-origin:0 0;">Aa aA</div>
<div class="t" style="left:4037.2px;top:275.5px;font-size:29.65px;color:#f0824a;letter-spacing:0.27px;">Financing</div>
<div class="t" style="left:4037.1px;top:342.7px;font-size:29.65px;color:#555555;transform:scaleX(1.0361);transform-origin:0 0;">Documents</div>
<div class="t" style="left:4037.2px;top:409.9px;font-size:29.65px;color:#555555;letter-spacing:0.15px;">Disbursements</div>
<div class="t" style="left:4037.2px;top:477.1px;font-size:29.65px;color:#555555;letter-spacing:0.13px;">Reimbursements</div>
<div class="t" style="left:4037.1px;top:544.3px;font-size:29.65px;color:#555555;transform:scaleX(1.0410);transform-origin:0 0;">Donations</div>
<div class="t" style="left:4039.2px;top:611.5px;font-size:29.65px;color:#555555;transform:scaleX(1.0336);transform-origin:0 0;">Writeoffs</div>
<div class="t" style="left:4038.2px;top:678.7px;font-size:29.65px;color:#555555;letter-spacing:-0.33px;">Schedule</div>
<div class="t" style="left:4038.2px;top:745.9px;font-size:29.65px;color:#555555;letter-spacing:0.04px;">Summary [G]</div>
<div class="t" style="left:4037.1px;top:813.1px;font-size:29.65px;color:#555555;transform:scaleX(1.0683);transform-origin:0 0;">Notepad</div>
<div class="t" style="left:1433.2px;top:302.3px;font-size:60.17px;color:#3b3b3b;font-weight:700;transform:scaleX(0.9507);transform-origin:0 0;">Jennifer</div>
<div class="t" style="left:1527.8px;top:445.0px;font-size:57.02px;color:#3b3b3b;font-weight:700;">0</div>
<div class="t" style="left:1418.9px;top:528.5px;font-size:41.57px;color:#858585;transform:scaleX(0.9244);transform-origin:0 0;">Balance [CHF]</div>
<div class="t" style="left:2031.9px;top:283.9px;font-size:33.01px;color:#2e2e2e;transform:scaleX(1.1448);transform-origin:0 0;">27,500</div>
<div class="t" style="left:2022.8px;top:328.0px;font-size:32.85px;color:#8a8a8a;transform:scaleX(0.9043);transform-origin:0 0;">Disbursed</div>
<div class="t" style="left:2080.5px;top:380.0px;font-size:33.01px;color:#2e2e2e;">0</div>
<div class="t" style="left:2009.2px;top:424.9px;font-size:32.85px;color:#8a8a8a;transform:scaleX(0.9095);transform-origin:0 0;">Reimbursed</div>
<div class="t" style="left:2031.9px;top:477.3px;font-size:33.01px;color:#2e2e2e;transform:scaleX(1.1448);transform-origin:0 0;">27,500</div>
<div class="t" style="left:2030.6px;top:521.9px;font-size:32.85px;color:#8a8a8a;transform:scaleX(0.9515);transform-origin:0 0;">Donated</div>
<div class="t" style="left:2080.5px;top:575.1px;font-size:33.01px;color:#2e2e2e;">0</div>
<div class="t" style="left:2017.5px;top:619.2px;font-size:32.85px;color:#8a8a8a;letter-spacing:-0.43px;">Written off</div>
<div class="t" style="left:2796.8px;top:257.9px;font-size:37.79px;color:#7a7a7a;transform:scaleX(0.9409);transform-origin:0 0;">Net financing balance</div>
<div class="t" style="left:2607.7px;top:314.1px;font-size:26.12px;color:#8c8c8c;letter-spacing:0.48px;">50000</div>
<div class="t" style="left:2666.6px;top:366.4px;font-size:26.12px;color:#8c8c8c;transform:scaleX(1.0769);transform-origin:0 0;">0</div>
<div class="t" style="left:2598.0px;top:418.8px;font-size:26.12px;color:#8c8c8c;transform:scaleX(1.0366);transform-origin:0 0;">-50000</div>
<div class="t" style="left:2583.7px;top:471.1px;font-size:26.12px;color:#8c8c8c;letter-spacing:0.45px;">-100000</div>
<div class="t" style="left:2583.7px;top:523.5px;font-size:26.12px;color:#8c8c8c;letter-spacing:0.45px;">-150000</div>
<div class="t" style="left:2583.7px;top:575.8px;font-size:26.12px;color:#8c8c8c;letter-spacing:0.45px;">-200000</div>
<div class="t" style="left:2583.7px;top:628.2px;font-size:26.12px;color:#8c8c8c;letter-spacing:0.45px;">-250000</div>
<div class="t" style="left:2829.8px;top:664.1px;font-size:27.03px;color:#8c8c8c;letter-spacing:-0.02px;">Granted</div>
<div class="t" style="left:3175.5px;top:664.1px;font-size:27.03px;color:#8c8c8c;transform:scaleX(0.9562);transform-origin:0 0;">Received</div>
<div class="t" style="left:1876.7px;top:776.3px;font-size:40.41px;color:#f0824a;letter-spacing:-0.38px;">Financing received [CHF]</div>
<div class="t" style="left:819.0px;top:870.0px;font-size:57.02px;color:#ee7b22;font-weight:700;transform:scaleX(1.0610);transform-origin:0 0;">375,000</div>
<div class="t" style="left:839.6px;top:975.2px;font-size:35.47px;color:#4c5058;font-weight:700;transform:scaleX(0.8406);transform-origin:0 0;">DISBURSED</div>
<div class="t" style="left:1305.5px;top:870.0px;font-size:57.02px;color:#ee7b22;font-weight:700;transform:scaleX(1.0572);transform-origin:0 0;">50,000</div>
<div class="t" style="left:1295.1px;top:975.2px;font-size:35.47px;color:#4c5058;font-weight:700;transform:scaleX(0.8523);transform-origin:0 0;">REIMBURSED</div>
<div class="t" style="left:1774.8px;top:870.0px;font-size:57.02px;color:#ee7b22;font-weight:700;transform:scaleX(1.0572);transform-origin:0 0;">50,000</div>
<div class="t" style="left:1787.9px;top:975.2px;font-size:35.47px;color:#4c5058;font-weight:700;transform:scaleX(0.9041);transform-origin:0 0;">DONATED</div>
<div class="t" style="left:2244.1px;top:870.0px;font-size:57.02px;color:#ee7b22;font-weight:700;transform:scaleX(1.0572);transform-origin:0 0;">50,000</div>
<div class="t" style="left:2231.3px;top:975.2px;font-size:35.47px;color:#4c5058;font-weight:700;transform:scaleX(0.8657);transform-origin:0 0;">WRITTEN OFF</div>
<div class="t" style="left:2696.7px;top:870.0px;font-size:57.02px;color:#ee7b22;font-weight:700;transform:scaleX(1.0561);transform-origin:0 0;">225,000</div>
<div class="t" style="left:2732.4px;top:975.2px;font-size:35.47px;color:#4c5058;font-weight:700;transform:scaleX(0.8329);transform-origin:0 0;">BALANCE</div>
<div class="t" style="left:3256.7px;top:870.0px;font-size:57.02px;color:#ee7b22;font-weight:700;transform:scaleX(1.1143);transform-origin:0 0;">0</div>
<div class="t" style="left:3200.0px;top:975.2px;font-size:35.47px;color:#4c5058;font-weight:700;transform:scaleX(0.8478);transform-origin:0 0;">OVERDUE</div>
<div class="t" style="left:1879.7px;top:1086.3px;font-size:40.41px;color:#f0824a;letter-spacing:0.05px;">Financing granted [CHF]</div>
<div class="t" style="left:835.9px;top:1180.0px;font-size:57.02px;color:#ee7b22;font-weight:700;transform:scaleX(1.0601);transform-origin:0 0;">89,800</div>
<div class="t" style="left:839.6px;top:1285.2px;font-size:35.47px;color:#4c5058;font-weight:700;transform:scaleX(0.8406);transform-origin:0 0;">DISBURSED</div>
<div class="t" style="left:1303.9px;top:1180.0px;font-size:57.02px;color:#ee7b22;font-weight:700;transform:scaleX(1.0632);transform-origin:0 0;">13,000</div>
<div class="t" style="left:1295.1px;top:1285.2px;font-size:35.47px;color:#4c5058;font-weight:700;transform:scaleX(0.8523);transform-origin:0 0;">REIMBURSED</div>
<div class="t" style="left:1775.6px;top:1180.0px;font-size:57.02px;color:#ee7b22;font-weight:700;transform:scaleX(1.0540);transform-origin:0 0;">49,800</div>
<div class="t" style="left:1787.9px;top:1285.2px;font-size:35.47px;color:#4c5058;font-weight:700;transform:scaleX(0.9041);transform-origin:0 0;">DONATED</div>
<div class="t" style="left:2318.1px;top:1180.0px;font-size:57.02px;color:#ee7b22;font-weight:700;transform:scaleX(1.1143);transform-origin:0 0;">0</div>
<div class="t" style="left:2231.3px;top:1285.2px;font-size:35.47px;color:#4c5058;font-weight:700;transform:scaleX(0.8657);transform-origin:0 0;">WRITTEN OFF</div>
<div class="t" style="left:2713.1px;top:1180.0px;font-size:57.02px;color:#ee7b22;font-weight:700;transform:scaleX(1.0601);transform-origin:0 0;">27,000</div>
<div class="t" style="left:2732.4px;top:1285.2px;font-size:35.47px;color:#4c5058;font-weight:700;transform:scaleX(0.8329);transform-origin:0 0;">BALANCE</div>
<div class="t" style="left:3256.7px;top:1180.0px;font-size:57.02px;color:#ee7b22;font-weight:700;transform:scaleX(1.1143);transform-origin:0 0;">0</div>
<div class="t" style="left:3200.0px;top:1285.2px;font-size:35.47px;color:#4c5058;font-weight:700;transform:scaleX(0.8478);transform-origin:0 0;">OVERDUE</div>
<div class="t" style="left:1873.1px;top:1453.8px;font-size:37.06px;color:#7a7a7a;transform:scaleX(0.9401);transform-origin:0 0;">Reimbursement schedule</div>
<div class="t" style="left:797.0px;top:1508.7px;font-size:26.97px;color:#8c8c8c;">20000</div>
<div class="t" style="left:857.0px;top:1559.1px;font-size:26.97px;color:#8c8c8c;">0</div>
<div class="t" style="left:788.0px;top:1609.5px;font-size:26.97px;color:#8c8c8c;">-20000</div>
<div class="t" style="left:788.0px;top:1659.9px;font-size:26.97px;color:#8c8c8c;">-40000</div>
<div class="t" style="left:788.0px;top:1710.3px;font-size:26.97px;color:#8c8c8c;">-60000</div>
<div class="t" style="left:788.0px;top:1760.8px;font-size:26.97px;color:#8c8c8c;">-80000</div>
<div class="t" style="left:922.9px;top:1796.4px;font-size:28.49px;color:#8c8c8c;transform:scaleX(0.9187);transform-origin:0 0;">Dec '22</div>
<div class="t" style="left:1077.6px;top:1796.4px;font-size:28.49px;color:#8c8c8c;transform:scaleX(0.9391);transform-origin:0 0;">Aug '23</div>
<div class="t" style="left:1232.4px;top:1796.4px;font-size:28.49px;color:#8c8c8c;transform:scaleX(0.9187);transform-origin:0 0;">Dec '23</div>
<div class="t" style="left:1387.1px;top:1796.4px;font-size:28.49px;color:#8c8c8c;transform:scaleX(0.9391);transform-origin:0 0;">Aug '24</div>
<div class="t" style="left:1542.0px;top:1796.4px;font-size:28.49px;color:#8c8c8c;transform:scaleX(0.9187);transform-origin:0 0;">Dec '24</div>
<div class="t" style="left:1696.7px;top:1796.4px;font-size:28.49px;color:#8c8c8c;transform:scaleX(0.9391);transform-origin:0 0;">Aug '25</div>
<div class="t" style="left:1851.5px;top:1796.4px;font-size:28.49px;color:#8c8c8c;transform:scaleX(0.9187);transform-origin:0 0;">Dec '25</div>
<div class="t" style="left:2006.2px;top:1796.4px;font-size:28.49px;color:#8c8c8c;transform:scaleX(0.9391);transform-origin:0 0;">Aug '26</div>
<div class="t" style="left:2161.0px;top:1796.4px;font-size:28.49px;color:#8c8c8c;transform:scaleX(0.9187);transform-origin:0 0;">Dec '26</div>
<div class="t" style="left:2315.7px;top:1796.4px;font-size:28.49px;color:#8c8c8c;transform:scaleX(0.9391);transform-origin:0 0;">Aug '27</div>
<div class="t" style="left:2470.6px;top:1796.4px;font-size:28.49px;color:#8c8c8c;transform:scaleX(0.9187);transform-origin:0 0;">Dec '27</div>
<div class="t" style="left:2625.3px;top:1796.4px;font-size:28.49px;color:#8c8c8c;transform:scaleX(0.9187);transform-origin:0 0;">Dec '28</div>
<div class="t" style="left:2780.1px;top:1796.4px;font-size:28.49px;color:#8c8c8c;transform:scaleX(0.9187);transform-origin:0 0;">Dec '29</div>
<div class="t" style="left:2934.9px;top:1796.4px;font-size:28.49px;color:#8c8c8c;transform:scaleX(0.9187);transform-origin:0 0;">Dec '30</div>
<div class="t" style="left:3089.6px;top:1796.4px;font-size:28.49px;color:#8c8c8c;transform:scaleX(0.9187);transform-origin:0 0;">Dec '31</div>
<div class="t" style="left:3284.9px;top:1625.4px;font-size:27.91px;color:#8c8c8c;letter-spacing:-0.45px;">Granted</div>
<div class="t" style="left:3284.0px;top:1679.0px;font-size:27.91px;color:#8c8c8c;transform:scaleX(0.9307);transform-origin:0 0;">Received</div>
<div class="t" style="left:3388.7px;top:2346.0px;font-size:27.67px;color:#f0824a;letter-spacing:-0.38px;">2021</div>
<div class="t" style="left:3705.0px;top:2346.0px;font-size:27.67px;color:#f0824a;letter-spacing:0.22px;">2023</div>
</body></html>
